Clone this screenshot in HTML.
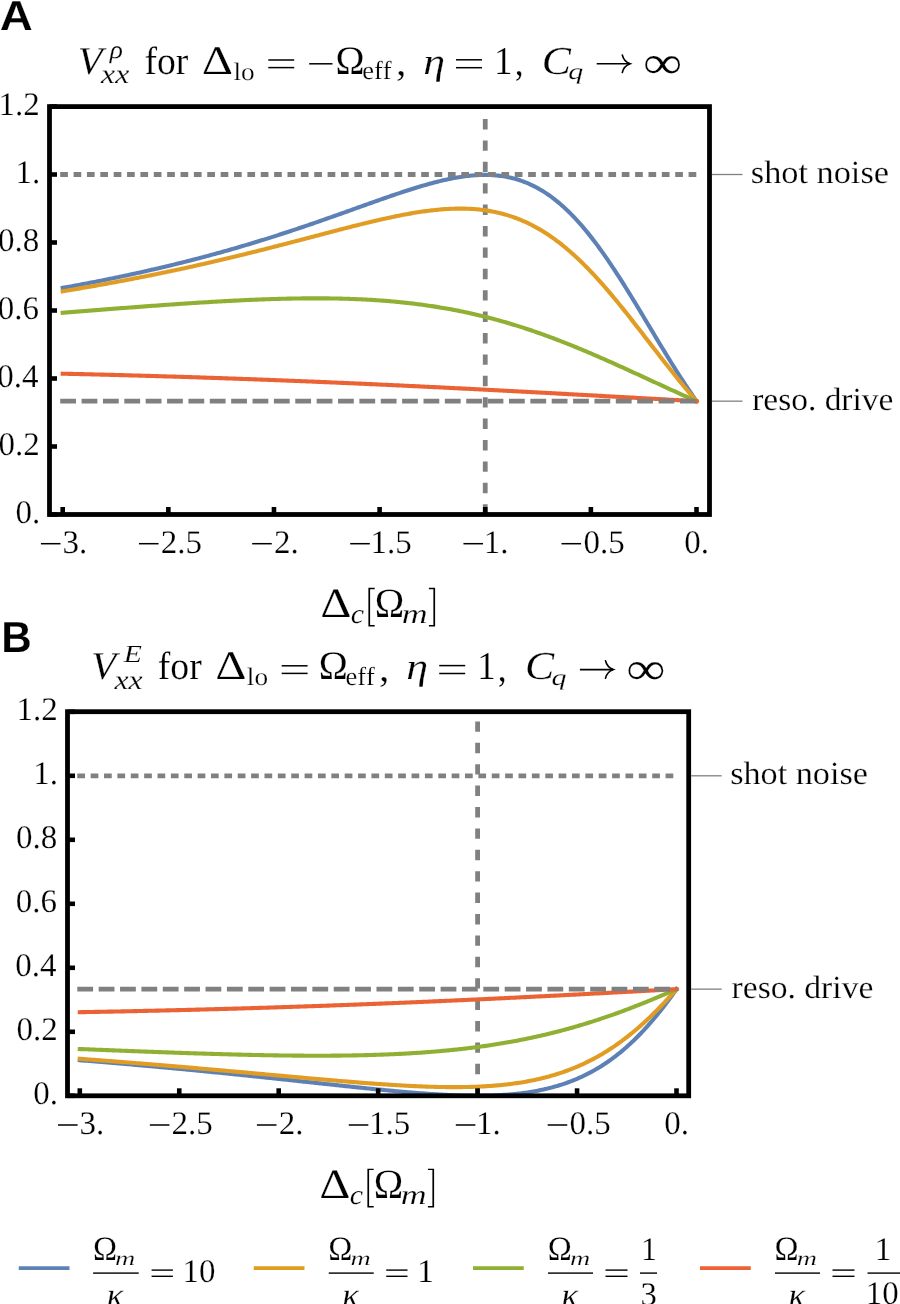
<!DOCTYPE html>
<html><head><meta charset="utf-8"><title>chart</title>
<style>html,body{margin:0;padding:0;background:#fff;width:900px;height:1304px;overflow:hidden}svg{display:block;will-change:transform}text{font-kerning:none;text-rendering:geometricPrecision;stroke:#fff;stroke-width:0.2px}</style>
</head><body>
<svg width="900" height="1304" viewBox="0 0 900 1304">
<rect width="100%" height="100%" fill="#fff"/>
<path d="M485.24 106.60V514.50" stroke="#808080" stroke-width="4.8" stroke-dasharray="10.4 11" stroke-dashoffset="-12.40" fill="none"/>
<path d="M62.70 287.87 L64.28 287.59 L65.87 287.30 L67.45 287.01 L69.04 286.73 L70.62 286.44 L72.21 286.15 L73.79 285.86 L75.38 285.56 L76.96 285.27 L78.55 284.98 L80.13 284.68 L81.71 284.38 L83.30 284.08 L84.88 283.78 L86.47 283.48 L88.05 283.18 L89.64 282.87 L91.22 282.57 L92.81 282.26 L94.39 281.95 L95.98 281.64 L97.56 281.33 L99.14 281.02 L100.73 280.70 L102.31 280.39 L103.90 280.07 L105.48 279.75 L107.07 279.43 L108.65 279.11 L110.24 278.79 L111.82 278.47 L113.40 278.14 L114.99 277.81 L116.57 277.48 L118.16 277.15 L119.74 276.82 L121.33 276.49 L122.91 276.16 L124.50 275.82 L126.08 275.48 L127.67 275.14 L129.25 274.80 L130.83 274.46 L132.42 274.12 L134.00 273.77 L135.59 273.43 L137.17 273.08 L138.76 272.73 L140.34 272.38 L141.93 272.03 L143.51 271.67 L145.10 271.31 L146.68 270.96 L148.26 270.60 L149.85 270.24 L151.43 269.87 L153.02 269.51 L154.60 269.14 L156.19 268.78 L157.77 268.41 L159.36 268.04 L160.94 267.66 L162.53 267.29 L164.11 266.91 L165.69 266.54 L167.28 266.16 L168.86 265.78 L170.45 265.39 L172.03 265.01 L173.62 264.62 L175.20 264.24 L176.79 263.85 L178.37 263.45 L179.95 263.06 L181.54 262.67 L183.12 262.27 L184.71 261.87 L186.29 261.47 L187.88 261.07 L189.46 260.67 L191.05 260.26 L192.63 259.85 L194.22 259.44 L195.80 259.03 L197.38 258.62 L198.97 258.21 L200.55 257.79 L202.14 257.37 L203.72 256.95 L205.31 256.53 L206.89 256.11 L208.48 255.68 L210.06 255.25 L211.65 254.82 L213.23 254.39 L214.81 253.96 L216.40 253.52 L217.98 253.09 L219.57 252.65 L221.15 252.21 L222.74 251.76 L224.32 251.32 L225.91 250.87 L227.49 250.43 L229.08 249.98 L230.66 249.52 L232.24 249.07 L233.83 248.61 L235.41 248.16 L237.00 247.70 L238.58 247.23 L240.17 246.77 L241.75 246.31 L243.34 245.84 L244.92 245.37 L246.50 244.90 L248.09 244.42 L249.67 243.95 L251.26 243.47 L252.84 242.99 L254.43 242.51 L256.01 242.03 L257.60 241.55 L259.18 241.06 L260.77 240.57 L262.35 240.08 L263.93 239.59 L265.52 239.10 L267.10 238.60 L268.69 238.10 L270.27 237.60 L271.86 237.10 L273.44 236.60 L275.03 236.09 L276.61 235.59 L278.20 235.08 L279.78 234.57 L281.36 234.06 L282.95 233.54 L284.53 233.03 L286.12 232.51 L287.70 231.99 L289.29 231.47 L290.87 230.95 L292.46 230.42 L294.04 229.90 L295.63 229.37 L297.21 228.84 L298.79 228.31 L300.38 227.77 L301.96 227.24 L303.55 226.70 L305.13 226.17 L306.72 225.63 L308.30 225.09 L309.89 224.55 L311.47 224.00 L313.05 223.46 L314.64 222.91 L316.22 222.37 L317.81 221.82 L319.39 221.27 L320.98 220.72 L322.56 220.16 L324.15 219.61 L325.73 219.06 L327.32 218.50 L328.90 217.94 L330.48 217.39 L332.07 216.83 L333.65 216.27 L335.24 215.71 L336.82 215.15 L338.41 214.58 L339.99 214.02 L341.58 213.46 L343.16 212.89 L344.75 212.33 L346.33 211.76 L347.91 211.20 L349.50 210.63 L351.08 210.07 L352.67 209.50 L354.25 208.93 L355.84 208.37 L357.42 207.80 L359.01 207.23 L360.59 206.67 L362.18 206.10 L363.76 205.53 L365.34 204.97 L366.93 204.40 L368.51 203.84 L370.10 203.27 L371.68 202.71 L373.27 202.15 L374.85 201.59 L376.44 201.03 L378.02 200.47 L379.61 199.91 L381.19 199.35 L382.77 198.80 L384.36 198.24 L385.94 197.69 L387.53 197.14 L389.11 196.59 L390.70 196.05 L392.28 195.51 L393.87 194.96 L395.45 194.43 L397.03 193.89 L398.62 193.36 L400.20 192.83 L401.79 192.30 L403.37 191.78 L404.96 191.26 L406.54 190.74 L408.13 190.23 L409.71 189.72 L411.30 189.22 L412.88 188.72 L414.46 188.22 L416.05 187.73 L417.63 187.25 L419.22 186.77 L420.80 186.30 L422.39 185.83 L423.97 185.37 L425.56 184.91 L427.14 184.46 L428.73 184.02 L430.31 183.58 L431.89 183.15 L433.48 182.73 L435.06 182.31 L436.65 181.91 L438.23 181.51 L439.82 181.12 L441.40 180.74 L442.99 180.37 L444.57 180.00 L446.16 179.65 L447.74 179.31 L449.32 178.97 L450.91 178.65 L452.49 178.34 L454.08 178.04 L455.66 177.75 L457.25 177.47 L458.83 177.21 L460.42 176.95 L462.00 176.71 L463.58 176.49 L465.17 176.28 L466.75 176.08 L468.34 175.89 L469.92 175.72 L471.51 175.57 L473.09 175.43 L474.68 175.31 L476.26 175.20 L477.85 175.11 L479.43 175.04 L481.01 174.98 L482.60 174.95 L484.18 174.93 L485.77 174.93 L487.35 174.95 L488.94 174.98 L490.52 175.04 L492.11 175.12 L493.69 175.22 L495.28 175.35 L496.86 175.49 L498.44 175.66 L500.03 175.84 L501.61 176.06 L503.20 176.29 L504.78 176.55 L506.37 176.84 L507.95 177.15 L509.54 177.48 L511.12 177.84 L512.71 178.23 L514.29 178.64 L515.87 179.08 L517.46 179.55 L519.04 180.05 L520.63 180.57 L522.21 181.13 L523.80 181.71 L525.38 182.32 L526.97 182.96 L528.55 183.64 L530.13 184.34 L531.72 185.08 L533.30 185.84 L534.89 186.64 L536.47 187.47 L538.06 188.33 L539.64 189.23 L541.23 190.16 L542.81 191.12 L544.40 192.12 L545.98 193.15 L547.56 194.21 L549.15 195.31 L550.73 196.44 L552.32 197.61 L553.90 198.81 L555.49 200.05 L557.07 201.32 L558.66 202.63 L560.24 203.97 L561.83 205.35 L563.41 206.76 L564.99 208.21 L566.58 209.69 L568.16 211.21 L569.75 212.77 L571.33 214.36 L572.92 215.98 L574.50 217.64 L576.09 219.34 L577.67 221.06 L579.26 222.83 L580.84 224.62 L582.42 226.45 L584.01 228.32 L585.59 230.21 L587.18 232.14 L588.76 234.10 L590.35 236.10 L591.93 238.12 L593.52 240.17 L595.10 242.26 L596.68 244.37 L598.27 246.52 L599.85 248.69 L601.44 250.89 L603.02 253.12 L604.61 255.37 L606.19 257.65 L607.78 259.96 L609.36 262.29 L610.95 264.64 L612.53 267.02 L614.11 269.41 L615.70 271.83 L617.28 274.27 L618.87 276.73 L620.45 279.21 L622.04 281.70 L623.62 284.21 L625.21 286.74 L626.79 289.28 L628.38 291.84 L629.96 294.41 L631.54 296.99 L633.13 299.58 L634.71 302.18 L636.30 304.79 L637.88 307.41 L639.47 310.03 L641.05 312.67 L642.64 315.30 L644.22 317.94 L645.81 320.58 L647.39 323.23 L648.97 325.87 L650.56 328.52 L652.14 331.16 L653.73 333.80 L655.31 336.44 L656.90 339.08 L658.48 341.71 L660.07 344.33 L661.65 346.95 L663.23 349.56 L664.82 352.16 L666.40 354.75 L667.99 357.33 L669.57 359.90 L671.16 362.46 L672.74 365.00 L674.33 367.53 L675.91 370.05 L677.50 372.55 L679.08 375.04 L680.66 377.51 L682.25 379.96 L683.83 382.40 L685.42 384.81 L687.00 387.21 L688.59 389.59 L690.17 391.95 L691.76 394.28 L693.34 396.60 L694.93 398.89 L696.51 401.17" fill="none" stroke="#5E81B5" stroke-width="4.1" stroke-linecap="square" stroke-linejoin="round"/>
<path d="M62.70 291.27 L64.28 291.01 L65.87 290.75 L67.45 290.49 L69.04 290.23 L70.62 289.96 L72.21 289.70 L73.79 289.44 L75.38 289.17 L76.96 288.90 L78.55 288.64 L80.13 288.37 L81.71 288.10 L83.30 287.83 L84.88 287.55 L86.47 287.28 L88.05 287.01 L89.64 286.73 L91.22 286.46 L92.81 286.18 L94.39 285.90 L95.98 285.62 L97.56 285.34 L99.14 285.06 L100.73 284.77 L102.31 284.49 L103.90 284.21 L105.48 283.92 L107.07 283.63 L108.65 283.34 L110.24 283.05 L111.82 282.76 L113.40 282.47 L114.99 282.18 L116.57 281.89 L118.16 281.59 L119.74 281.29 L121.33 281.00 L122.91 280.70 L124.50 280.40 L126.08 280.10 L127.67 279.80 L129.25 279.49 L130.83 279.19 L132.42 278.88 L134.00 278.58 L135.59 278.27 L137.17 277.96 L138.76 277.65 L140.34 277.34 L141.93 277.03 L143.51 276.71 L145.10 276.40 L146.68 276.08 L148.26 275.76 L149.85 275.45 L151.43 275.13 L153.02 274.81 L154.60 274.48 L156.19 274.16 L157.77 273.84 L159.36 273.51 L160.94 273.18 L162.53 272.86 L164.11 272.53 L165.69 272.20 L167.28 271.86 L168.86 271.53 L170.45 271.20 L172.03 270.86 L173.62 270.53 L175.20 270.19 L176.79 269.85 L178.37 269.51 L179.95 269.17 L181.54 268.83 L183.12 268.48 L184.71 268.14 L186.29 267.79 L187.88 267.44 L189.46 267.09 L191.05 266.74 L192.63 266.39 L194.22 266.04 L195.80 265.69 L197.38 265.33 L198.97 264.98 L200.55 264.62 L202.14 264.26 L203.72 263.90 L205.31 263.54 L206.89 263.18 L208.48 262.82 L210.06 262.45 L211.65 262.09 L213.23 261.72 L214.81 261.35 L216.40 260.98 L217.98 260.61 L219.57 260.24 L221.15 259.87 L222.74 259.49 L224.32 259.12 L225.91 258.74 L227.49 258.37 L229.08 257.99 L230.66 257.61 L232.24 257.23 L233.83 256.85 L235.41 256.46 L237.00 256.08 L238.58 255.70 L240.17 255.31 L241.75 254.92 L243.34 254.53 L244.92 254.14 L246.50 253.75 L248.09 253.36 L249.67 252.97 L251.26 252.58 L252.84 252.18 L254.43 251.79 L256.01 251.39 L257.60 251.00 L259.18 250.60 L260.77 250.20 L262.35 249.80 L263.93 249.40 L265.52 249.00 L267.10 248.59 L268.69 248.19 L270.27 247.79 L271.86 247.38 L273.44 246.98 L275.03 246.57 L276.61 246.16 L278.20 245.75 L279.78 245.35 L281.36 244.94 L282.95 244.53 L284.53 244.12 L286.12 243.70 L287.70 243.29 L289.29 242.88 L290.87 242.47 L292.46 242.05 L294.04 241.64 L295.63 241.23 L297.21 240.81 L298.79 240.40 L300.38 239.98 L301.96 239.57 L303.55 239.15 L305.13 238.73 L306.72 238.32 L308.30 237.90 L309.89 237.48 L311.47 237.07 L313.05 236.65 L314.64 236.23 L316.22 235.82 L317.81 235.40 L319.39 234.98 L320.98 234.57 L322.56 234.15 L324.15 233.74 L325.73 233.32 L327.32 232.90 L328.90 232.49 L330.48 232.08 L332.07 231.66 L333.65 231.25 L335.24 230.84 L336.82 230.42 L338.41 230.01 L339.99 229.60 L341.58 229.19 L343.16 228.79 L344.75 228.38 L346.33 227.97 L347.91 227.57 L349.50 227.16 L351.08 226.76 L352.67 226.36 L354.25 225.96 L355.84 225.56 L357.42 225.16 L359.01 224.77 L360.59 224.38 L362.18 223.99 L363.76 223.60 L365.34 223.21 L366.93 222.82 L368.51 222.44 L370.10 222.06 L371.68 221.68 L373.27 221.31 L374.85 220.93 L376.44 220.56 L378.02 220.20 L379.61 219.83 L381.19 219.47 L382.77 219.11 L384.36 218.76 L385.94 218.41 L387.53 218.06 L389.11 217.72 L390.70 217.38 L392.28 217.04 L393.87 216.71 L395.45 216.38 L397.03 216.06 L398.62 215.74 L400.20 215.42 L401.79 215.11 L403.37 214.81 L404.96 214.51 L406.54 214.22 L408.13 213.93 L409.71 213.64 L411.30 213.36 L412.88 213.09 L414.46 212.83 L416.05 212.57 L417.63 212.31 L419.22 212.07 L420.80 211.83 L422.39 211.59 L423.97 211.37 L425.56 211.15 L427.14 210.94 L428.73 210.73 L430.31 210.54 L431.89 210.35 L433.48 210.17 L435.06 210.00 L436.65 209.84 L438.23 209.68 L439.82 209.54 L441.40 209.40 L442.99 209.28 L444.57 209.16 L446.16 209.06 L447.74 208.96 L449.32 208.88 L450.91 208.80 L452.49 208.74 L454.08 208.69 L455.66 208.65 L457.25 208.62 L458.83 208.60 L460.42 208.60 L462.00 208.60 L463.58 208.62 L465.17 208.65 L466.75 208.70 L468.34 208.76 L469.92 208.83 L471.51 208.92 L473.09 209.02 L474.68 209.13 L476.26 209.26 L477.85 209.41 L479.43 209.57 L481.01 209.74 L482.60 209.94 L484.18 210.14 L485.77 210.37 L487.35 210.61 L488.94 210.86 L490.52 211.14 L492.11 211.43 L493.69 211.74 L495.28 212.06 L496.86 212.41 L498.44 212.77 L500.03 213.15 L501.61 213.55 L503.20 213.97 L504.78 214.41 L506.37 214.87 L507.95 215.34 L509.54 215.84 L511.12 216.36 L512.71 216.90 L514.29 217.46 L515.87 218.04 L517.46 218.64 L519.04 219.26 L520.63 219.91 L522.21 220.57 L523.80 221.26 L525.38 221.97 L526.97 222.70 L528.55 223.46 L530.13 224.24 L531.72 225.04 L533.30 225.86 L534.89 226.71 L536.47 227.58 L538.06 228.47 L539.64 229.38 L541.23 230.32 L542.81 231.29 L544.40 232.28 L545.98 233.29 L547.56 234.32 L549.15 235.38 L550.73 236.46 L552.32 237.57 L553.90 238.70 L555.49 239.85 L557.07 241.03 L558.66 242.23 L560.24 243.46 L561.83 244.71 L563.41 245.98 L564.99 247.28 L566.58 248.59 L568.16 249.94 L569.75 251.30 L571.33 252.69 L572.92 254.11 L574.50 255.54 L576.09 257.00 L577.67 258.48 L579.26 259.98 L580.84 261.50 L582.42 263.05 L584.01 264.62 L585.59 266.20 L587.18 267.81 L588.76 269.44 L590.35 271.09 L591.93 272.76 L593.52 274.45 L595.10 276.15 L596.68 277.88 L598.27 279.62 L599.85 281.38 L601.44 283.16 L603.02 284.96 L604.61 286.77 L606.19 288.60 L607.78 290.44 L609.36 292.30 L610.95 294.18 L612.53 296.06 L614.11 297.96 L615.70 299.88 L617.28 301.81 L618.87 303.74 L620.45 305.69 L622.04 307.66 L623.62 309.63 L625.21 311.61 L626.79 313.60 L628.38 315.59 L629.96 317.60 L631.54 319.61 L633.13 321.63 L634.71 323.66 L636.30 325.69 L637.88 327.73 L639.47 329.77 L641.05 331.81 L642.64 333.86 L644.22 335.91 L645.81 337.96 L647.39 340.02 L648.97 342.07 L650.56 344.12 L652.14 346.17 L653.73 348.23 L655.31 350.28 L656.90 352.32 L658.48 354.37 L660.07 356.41 L661.65 358.44 L663.23 360.48 L664.82 362.50 L666.40 364.52 L667.99 366.54 L669.57 368.55 L671.16 370.55 L672.74 372.54 L674.33 374.52 L675.91 376.50 L677.50 378.46 L679.08 380.42 L680.66 382.37 L682.25 384.30 L683.83 386.22 L685.42 388.14 L687.00 390.04 L688.59 391.93 L690.17 393.80 L691.76 395.66 L693.34 397.51 L694.93 399.35 L696.51 401.17" fill="none" stroke="#E19C24" stroke-width="4.1" stroke-linecap="square" stroke-linejoin="round"/>
<path d="M62.70 312.71 L64.28 312.59 L65.87 312.46 L67.45 312.34 L69.04 312.22 L70.62 312.09 L72.21 311.97 L73.79 311.84 L75.38 311.72 L76.96 311.60 L78.55 311.47 L80.13 311.35 L81.71 311.22 L83.30 311.10 L84.88 310.98 L86.47 310.85 L88.05 310.73 L89.64 310.61 L91.22 310.48 L92.81 310.36 L94.39 310.24 L95.98 310.11 L97.56 309.99 L99.14 309.87 L100.73 309.75 L102.31 309.62 L103.90 309.50 L105.48 309.38 L107.07 309.26 L108.65 309.13 L110.24 309.01 L111.82 308.89 L113.40 308.77 L114.99 308.65 L116.57 308.53 L118.16 308.40 L119.74 308.28 L121.33 308.16 L122.91 308.04 L124.50 307.92 L126.08 307.80 L127.67 307.68 L129.25 307.56 L130.83 307.44 L132.42 307.33 L134.00 307.21 L135.59 307.09 L137.17 306.97 L138.76 306.85 L140.34 306.73 L141.93 306.62 L143.51 306.50 L145.10 306.38 L146.68 306.27 L148.26 306.15 L149.85 306.03 L151.43 305.92 L153.02 305.80 L154.60 305.69 L156.19 305.58 L157.77 305.46 L159.36 305.35 L160.94 305.23 L162.53 305.12 L164.11 305.01 L165.69 304.90 L167.28 304.79 L168.86 304.68 L170.45 304.57 L172.03 304.46 L173.62 304.35 L175.20 304.24 L176.79 304.13 L178.37 304.02 L179.95 303.91 L181.54 303.81 L183.12 303.70 L184.71 303.59 L186.29 303.49 L187.88 303.38 L189.46 303.28 L191.05 303.18 L192.63 303.07 L194.22 302.97 L195.80 302.87 L197.38 302.77 L198.97 302.67 L200.55 302.57 L202.14 302.47 L203.72 302.38 L205.31 302.28 L206.89 302.18 L208.48 302.09 L210.06 301.99 L211.65 301.90 L213.23 301.80 L214.81 301.71 L216.40 301.62 L217.98 301.53 L219.57 301.44 L221.15 301.35 L222.74 301.26 L224.32 301.17 L225.91 301.09 L227.49 301.00 L229.08 300.92 L230.66 300.84 L232.24 300.75 L233.83 300.67 L235.41 300.59 L237.00 300.51 L238.58 300.43 L240.17 300.36 L241.75 300.28 L243.34 300.21 L244.92 300.13 L246.50 300.06 L248.09 299.99 L249.67 299.92 L251.26 299.85 L252.84 299.78 L254.43 299.72 L256.01 299.65 L257.60 299.59 L259.18 299.52 L260.77 299.46 L262.35 299.40 L263.93 299.34 L265.52 299.29 L267.10 299.23 L268.69 299.18 L270.27 299.12 L271.86 299.07 L273.44 299.02 L275.03 298.98 L276.61 298.93 L278.20 298.88 L279.78 298.84 L281.36 298.80 L282.95 298.76 L284.53 298.72 L286.12 298.68 L287.70 298.65 L289.29 298.61 L290.87 298.58 L292.46 298.55 L294.04 298.52 L295.63 298.50 L297.21 298.47 L298.79 298.45 L300.38 298.43 L301.96 298.41 L303.55 298.39 L305.13 298.38 L306.72 298.36 L308.30 298.35 L309.89 298.35 L311.47 298.34 L313.05 298.33 L314.64 298.33 L316.22 298.33 L317.81 298.33 L319.39 298.34 L320.98 298.34 L322.56 298.35 L324.15 298.36 L325.73 298.38 L327.32 298.39 L328.90 298.41 L330.48 298.43 L332.07 298.45 L333.65 298.48 L335.24 298.51 L336.82 298.54 L338.41 298.57 L339.99 298.61 L341.58 298.64 L343.16 298.68 L344.75 298.73 L346.33 298.77 L347.91 298.82 L349.50 298.88 L351.08 298.93 L352.67 298.99 L354.25 299.05 L355.84 299.11 L357.42 299.18 L359.01 299.25 L360.59 299.32 L362.18 299.39 L363.76 299.47 L365.34 299.55 L366.93 299.64 L368.51 299.72 L370.10 299.81 L371.68 299.91 L373.27 300.00 L374.85 300.11 L376.44 300.21 L378.02 300.32 L379.61 300.43 L381.19 300.54 L382.77 300.66 L384.36 300.78 L385.94 300.90 L387.53 301.03 L389.11 301.16 L390.70 301.29 L392.28 301.43 L393.87 301.57 L395.45 301.72 L397.03 301.87 L398.62 302.02 L400.20 302.18 L401.79 302.34 L403.37 302.50 L404.96 302.67 L406.54 302.84 L408.13 303.02 L409.71 303.20 L411.30 303.38 L412.88 303.57 L414.46 303.76 L416.05 303.96 L417.63 304.16 L419.22 304.36 L420.80 304.57 L422.39 304.78 L423.97 305.00 L425.56 305.22 L427.14 305.45 L428.73 305.68 L430.31 305.91 L431.89 306.15 L433.48 306.39 L435.06 306.64 L436.65 306.89 L438.23 307.14 L439.82 307.40 L441.40 307.67 L442.99 307.94 L444.57 308.21 L446.16 308.49 L447.74 308.77 L449.32 309.06 L450.91 309.35 L452.49 309.64 L454.08 309.95 L455.66 310.25 L457.25 310.56 L458.83 310.88 L460.42 311.20 L462.00 311.52 L463.58 311.85 L465.17 312.18 L466.75 312.52 L468.34 312.86 L469.92 313.21 L471.51 313.57 L473.09 313.92 L474.68 314.29 L476.26 314.65 L477.85 315.02 L479.43 315.40 L481.01 315.78 L482.60 316.17 L484.18 316.56 L485.77 316.96 L487.35 317.36 L488.94 317.77 L490.52 318.18 L492.11 318.59 L493.69 319.01 L495.28 319.44 L496.86 319.87 L498.44 320.30 L500.03 320.74 L501.61 321.19 L503.20 321.64 L504.78 322.09 L506.37 322.55 L507.95 323.02 L509.54 323.49 L511.12 323.96 L512.71 324.44 L514.29 324.92 L515.87 325.41 L517.46 325.91 L519.04 326.40 L520.63 326.91 L522.21 327.41 L523.80 327.92 L525.38 328.44 L526.97 328.96 L528.55 329.49 L530.13 330.02 L531.72 330.55 L533.30 331.09 L534.89 331.64 L536.47 332.19 L538.06 332.74 L539.64 333.30 L541.23 333.86 L542.81 334.42 L544.40 334.99 L545.98 335.57 L547.56 336.15 L549.15 336.73 L550.73 337.32 L552.32 337.91 L553.90 338.51 L555.49 339.11 L557.07 339.71 L558.66 340.32 L560.24 340.93 L561.83 341.54 L563.41 342.16 L564.99 342.79 L566.58 343.41 L568.16 344.04 L569.75 344.68 L571.33 345.31 L572.92 345.96 L574.50 346.60 L576.09 347.25 L577.67 347.90 L579.26 348.55 L580.84 349.21 L582.42 349.87 L584.01 350.54 L585.59 351.20 L587.18 351.87 L588.76 352.55 L590.35 353.22 L591.93 353.90 L593.52 354.58 L595.10 355.27 L596.68 355.95 L598.27 356.64 L599.85 357.33 L601.44 358.03 L603.02 358.72 L604.61 359.42 L606.19 360.12 L607.78 360.82 L609.36 361.53 L610.95 362.24 L612.53 362.94 L614.11 363.65 L615.70 364.37 L617.28 365.08 L618.87 365.80 L620.45 366.51 L622.04 367.23 L623.62 367.95 L625.21 368.67 L626.79 369.39 L628.38 370.12 L629.96 370.84 L631.54 371.57 L633.13 372.29 L634.71 373.02 L636.30 373.75 L637.88 374.47 L639.47 375.20 L641.05 375.93 L642.64 376.66 L644.22 377.39 L645.81 378.12 L647.39 378.85 L648.97 379.58 L650.56 380.31 L652.14 381.04 L653.73 381.78 L655.31 382.51 L656.90 383.24 L658.48 383.96 L660.07 384.69 L661.65 385.42 L663.23 386.15 L664.82 386.88 L666.40 387.60 L667.99 388.33 L669.57 389.05 L671.16 389.78 L672.74 390.50 L674.33 391.22 L675.91 391.94 L677.50 392.66 L679.08 393.38 L680.66 394.10 L682.25 394.81 L683.83 395.52 L685.42 396.24 L687.00 396.95 L688.59 397.65 L690.17 398.36 L691.76 399.06 L693.34 399.77 L694.93 400.47 L696.51 401.17" fill="none" stroke="#8FB032" stroke-width="4.1" stroke-linecap="square" stroke-linejoin="round"/>
<path d="M62.70 373.69 L64.28 373.73 L65.87 373.76 L67.45 373.80 L69.04 373.83 L70.62 373.87 L72.21 373.91 L73.79 373.94 L75.38 373.98 L76.96 374.02 L78.55 374.05 L80.13 374.09 L81.71 374.13 L83.30 374.17 L84.88 374.21 L86.47 374.24 L88.05 374.28 L89.64 374.32 L91.22 374.36 L92.81 374.40 L94.39 374.44 L95.98 374.47 L97.56 374.51 L99.14 374.55 L100.73 374.59 L102.31 374.63 L103.90 374.67 L105.48 374.71 L107.07 374.75 L108.65 374.79 L110.24 374.84 L111.82 374.88 L113.40 374.92 L114.99 374.96 L116.57 375.00 L118.16 375.04 L119.74 375.08 L121.33 375.13 L122.91 375.17 L124.50 375.21 L126.08 375.25 L127.67 375.30 L129.25 375.34 L130.83 375.38 L132.42 375.43 L134.00 375.47 L135.59 375.51 L137.17 375.56 L138.76 375.60 L140.34 375.65 L141.93 375.69 L143.51 375.74 L145.10 375.78 L146.68 375.83 L148.26 375.87 L149.85 375.92 L151.43 375.96 L153.02 376.01 L154.60 376.05 L156.19 376.10 L157.77 376.15 L159.36 376.19 L160.94 376.24 L162.53 376.29 L164.11 376.33 L165.69 376.38 L167.28 376.43 L168.86 376.48 L170.45 376.53 L172.03 376.57 L173.62 376.62 L175.20 376.67 L176.79 376.72 L178.37 376.77 L179.95 376.82 L181.54 376.87 L183.12 376.92 L184.71 376.97 L186.29 377.02 L187.88 377.07 L189.46 377.12 L191.05 377.17 L192.63 377.22 L194.22 377.27 L195.80 377.32 L197.38 377.37 L198.97 377.42 L200.55 377.47 L202.14 377.53 L203.72 377.58 L205.31 377.63 L206.89 377.68 L208.48 377.74 L210.06 377.79 L211.65 377.84 L213.23 377.90 L214.81 377.95 L216.40 378.00 L217.98 378.06 L219.57 378.11 L221.15 378.16 L222.74 378.22 L224.32 378.27 L225.91 378.33 L227.49 378.38 L229.08 378.44 L230.66 378.49 L232.24 378.55 L233.83 378.61 L235.41 378.66 L237.00 378.72 L238.58 378.77 L240.17 378.83 L241.75 378.89 L243.34 378.94 L244.92 379.00 L246.50 379.06 L248.09 379.12 L249.67 379.17 L251.26 379.23 L252.84 379.29 L254.43 379.35 L256.01 379.41 L257.60 379.46 L259.18 379.52 L260.77 379.58 L262.35 379.64 L263.93 379.70 L265.52 379.76 L267.10 379.82 L268.69 379.88 L270.27 379.94 L271.86 380.00 L273.44 380.06 L275.03 380.12 L276.61 380.18 L278.20 380.24 L279.78 380.31 L281.36 380.37 L282.95 380.43 L284.53 380.49 L286.12 380.55 L287.70 380.61 L289.29 380.68 L290.87 380.74 L292.46 380.80 L294.04 380.87 L295.63 380.93 L297.21 380.99 L298.79 381.06 L300.38 381.12 L301.96 381.18 L303.55 381.25 L305.13 381.31 L306.72 381.38 L308.30 381.44 L309.89 381.50 L311.47 381.57 L313.05 381.63 L314.64 381.70 L316.22 381.77 L317.81 381.83 L319.39 381.90 L320.98 381.96 L322.56 382.03 L324.15 382.10 L325.73 382.16 L327.32 382.23 L328.90 382.30 L330.48 382.36 L332.07 382.43 L333.65 382.50 L335.24 382.57 L336.82 382.63 L338.41 382.70 L339.99 382.77 L341.58 382.84 L343.16 382.91 L344.75 382.98 L346.33 383.04 L347.91 383.11 L349.50 383.18 L351.08 383.25 L352.67 383.32 L354.25 383.39 L355.84 383.46 L357.42 383.53 L359.01 383.60 L360.59 383.67 L362.18 383.74 L363.76 383.81 L365.34 383.88 L366.93 383.96 L368.51 384.03 L370.10 384.10 L371.68 384.17 L373.27 384.24 L374.85 384.31 L376.44 384.39 L378.02 384.46 L379.61 384.53 L381.19 384.60 L382.77 384.68 L384.36 384.75 L385.94 384.82 L387.53 384.90 L389.11 384.97 L390.70 385.04 L392.28 385.12 L393.87 385.19 L395.45 385.26 L397.03 385.34 L398.62 385.41 L400.20 385.49 L401.79 385.56 L403.37 385.64 L404.96 385.71 L406.54 385.79 L408.13 385.86 L409.71 385.94 L411.30 386.01 L412.88 386.09 L414.46 386.16 L416.05 386.24 L417.63 386.32 L419.22 386.39 L420.80 386.47 L422.39 386.54 L423.97 386.62 L425.56 386.70 L427.14 386.78 L428.73 386.85 L430.31 386.93 L431.89 387.01 L433.48 387.08 L435.06 387.16 L436.65 387.24 L438.23 387.32 L439.82 387.40 L441.40 387.47 L442.99 387.55 L444.57 387.63 L446.16 387.71 L447.74 387.79 L449.32 387.87 L450.91 387.95 L452.49 388.03 L454.08 388.11 L455.66 388.18 L457.25 388.26 L458.83 388.34 L460.42 388.42 L462.00 388.50 L463.58 388.58 L465.17 388.66 L466.75 388.74 L468.34 388.82 L469.92 388.91 L471.51 388.99 L473.09 389.07 L474.68 389.15 L476.26 389.23 L477.85 389.31 L479.43 389.39 L481.01 389.47 L482.60 389.55 L484.18 389.64 L485.77 389.72 L487.35 389.80 L488.94 389.88 L490.52 389.96 L492.11 390.05 L493.69 390.13 L495.28 390.21 L496.86 390.29 L498.44 390.37 L500.03 390.46 L501.61 390.54 L503.20 390.62 L504.78 390.71 L506.37 390.79 L507.95 390.87 L509.54 390.96 L511.12 391.04 L512.71 391.12 L514.29 391.21 L515.87 391.29 L517.46 391.37 L519.04 391.46 L520.63 391.54 L522.21 391.62 L523.80 391.71 L525.38 391.79 L526.97 391.88 L528.55 391.96 L530.13 392.05 L531.72 392.13 L533.30 392.22 L534.89 392.30 L536.47 392.38 L538.06 392.47 L539.64 392.55 L541.23 392.64 L542.81 392.72 L544.40 392.81 L545.98 392.90 L547.56 392.98 L549.15 393.07 L550.73 393.15 L552.32 393.24 L553.90 393.32 L555.49 393.41 L557.07 393.49 L558.66 393.58 L560.24 393.67 L561.83 393.75 L563.41 393.84 L564.99 393.92 L566.58 394.01 L568.16 394.10 L569.75 394.18 L571.33 394.27 L572.92 394.35 L574.50 394.44 L576.09 394.53 L577.67 394.61 L579.26 394.70 L580.84 394.79 L582.42 394.87 L584.01 394.96 L585.59 395.05 L587.18 395.13 L588.76 395.22 L590.35 395.31 L591.93 395.39 L593.52 395.48 L595.10 395.57 L596.68 395.65 L598.27 395.74 L599.85 395.83 L601.44 395.92 L603.02 396.00 L604.61 396.09 L606.19 396.18 L607.78 396.27 L609.36 396.35 L610.95 396.44 L612.53 396.53 L614.11 396.61 L615.70 396.70 L617.28 396.79 L618.87 396.88 L620.45 396.96 L622.04 397.05 L623.62 397.14 L625.21 397.23 L626.79 397.31 L628.38 397.40 L629.96 397.49 L631.54 397.58 L633.13 397.66 L634.71 397.75 L636.30 397.84 L637.88 397.93 L639.47 398.02 L641.05 398.10 L642.64 398.19 L644.22 398.28 L645.81 398.37 L647.39 398.45 L648.97 398.54 L650.56 398.63 L652.14 398.72 L653.73 398.80 L655.31 398.89 L656.90 398.98 L658.48 399.07 L660.07 399.15 L661.65 399.24 L663.23 399.33 L664.82 399.42 L666.40 399.51 L667.99 399.59 L669.57 399.68 L671.16 399.77 L672.74 399.86 L674.33 399.94 L675.91 400.03 L677.50 400.12 L679.08 400.21 L680.66 400.29 L682.25 400.38 L683.83 400.47 L685.42 400.56 L687.00 400.64 L688.59 400.73 L690.17 400.82 L691.76 400.90 L693.34 400.99 L694.93 401.08 L696.51 401.17" fill="none" stroke="#EB6235" stroke-width="4.1" stroke-linecap="square" stroke-linejoin="round"/>
<path d="M60.20 174.50H696.51" stroke="#808080" stroke-width="4.8" stroke-dasharray="7.7 5.67" fill="none"/>
<path d="M60.20 401.17H696.71" stroke="#808080" stroke-width="4.8" stroke-dasharray="15.8 5.57" fill="none"/>
<rect x="49.50" y="106.60" width="660.00" height="407.90" fill="none" stroke="#000" stroke-width="4.8"/>
<path d="M62.70 514.50V507.00" stroke="#000" stroke-width="4.6"/>
<path d="M49.50 514.50H57.00" stroke="#000" stroke-width="4.6"/>
<path d="M168.34 514.50V507.00" stroke="#000" stroke-width="4.6"/>
<path d="M49.50 446.50H57.00" stroke="#000" stroke-width="4.6"/>
<path d="M273.97 514.50V507.00" stroke="#000" stroke-width="4.6"/>
<path d="M49.50 378.50H57.00" stroke="#000" stroke-width="4.6"/>
<path d="M379.61 514.50V507.00" stroke="#000" stroke-width="4.6"/>
<path d="M49.50 310.50H57.00" stroke="#000" stroke-width="4.6"/>
<path d="M485.24 514.50V507.00" stroke="#000" stroke-width="4.6"/>
<path d="M49.50 242.50H57.00" stroke="#000" stroke-width="4.6"/>
<path d="M590.88 514.50V507.00" stroke="#000" stroke-width="4.6"/>
<path d="M49.50 174.50H57.00" stroke="#000" stroke-width="4.6"/>
<path d="M696.51 514.50V507.00" stroke="#000" stroke-width="4.6"/>
<path d="M49.50 106.50H57.00" stroke="#000" stroke-width="4.6"/>
<text x="15.43" y="523.00" style='font-family:"Liberation Serif";font-style:normal;font-weight:normal;font-size:33.00px' fill="#000">0.</text>
<text x="-1.43" y="455.00" style='font-family:"Liberation Serif";font-style:normal;font-weight:normal;font-size:33.00px' fill="#000">0.2</text>
<text x="-2.73" y="387.00" style='font-family:"Liberation Serif";font-style:normal;font-weight:normal;font-size:33.00px' fill="#000">0.4</text>
<text x="-2.27" y="319.00" style='font-family:"Liberation Serif";font-style:normal;font-weight:normal;font-size:33.00px' fill="#000">0.6</text>
<text x="-1.99" y="251.00" style='font-family:"Liberation Serif";font-style:normal;font-weight:normal;font-size:33.00px' fill="#000">0.8</text>
<text x="15.43" y="183.00" style='font-family:"Liberation Serif";font-style:normal;font-weight:normal;font-size:33.00px' fill="#000">1.</text>
<text x="-1.43" y="115.00" style='font-family:"Liberation Serif";font-style:normal;font-weight:normal;font-size:33.00px' fill="#000">1.2</text>
<rect x="40.90" y="542.95" width="19.60" height="1.50" fill="#000"/>
<text x="62.52" y="552.50" style='font-family:"Liberation Serif";font-style:normal;font-weight:normal;font-size:33.00px' fill="#000">3.</text>
<rect x="138.94" y="542.95" width="19.60" height="1.50" fill="#000"/>
<text x="160.68" y="552.50" style='font-family:"Liberation Serif";font-style:normal;font-weight:normal;font-size:33.00px' fill="#000">2.5</text>
<rect x="252.17" y="542.95" width="19.60" height="1.50" fill="#000"/>
<text x="273.92" y="552.50" style='font-family:"Liberation Serif";font-style:normal;font-weight:normal;font-size:33.00px' fill="#000">2.</text>
<rect x="350.21" y="542.95" width="19.60" height="1.50" fill="#000"/>
<text x="370.50" y="552.50" style='font-family:"Liberation Serif";font-style:normal;font-weight:normal;font-size:33.00px' fill="#000">1.5</text>
<rect x="463.44" y="542.95" width="19.60" height="1.50" fill="#000"/>
<text x="483.74" y="552.50" style='font-family:"Liberation Serif";font-style:normal;font-weight:normal;font-size:33.00px' fill="#000">1.</text>
<rect x="561.48" y="542.95" width="19.60" height="1.50" fill="#000"/>
<text x="583.42" y="552.50" style='font-family:"Liberation Serif";font-style:normal;font-weight:normal;font-size:33.00px' fill="#000">0.5</text>
<text x="684.25" y="552.50" style='font-family:"Liberation Serif";font-style:normal;font-weight:normal;font-size:33.00px' fill="#000">0.</text>
<path d="M711.90 174.50H742.50" stroke="#808080" stroke-width="1.3"/>
<path d="M711.90 401.17H742.50" stroke="#808080" stroke-width="1.3"/>
<path d="M477.60 711.70V1095.80" stroke="#808080" stroke-width="4.8" stroke-dasharray="10.4 11" stroke-dashoffset="-9.70" fill="none"/>
<path d="M79.80 1060.23 L81.29 1060.35 L82.78 1060.47 L84.28 1060.59 L85.77 1060.71 L87.26 1060.83 L88.75 1060.95 L90.24 1061.07 L91.73 1061.19 L93.23 1061.31 L94.72 1061.43 L96.21 1061.55 L97.70 1061.67 L99.19 1061.80 L100.68 1061.92 L102.18 1062.04 L103.67 1062.17 L105.16 1062.29 L106.65 1062.41 L108.14 1062.54 L109.63 1062.66 L111.13 1062.79 L112.62 1062.91 L114.11 1063.04 L115.60 1063.17 L117.09 1063.29 L118.59 1063.42 L120.08 1063.55 L121.57 1063.67 L123.06 1063.80 L124.55 1063.93 L126.04 1064.06 L127.54 1064.19 L129.03 1064.32 L130.52 1064.45 L132.01 1064.58 L133.50 1064.71 L134.99 1064.84 L136.49 1064.97 L137.98 1065.10 L139.47 1065.23 L140.96 1065.36 L142.45 1065.49 L143.95 1065.63 L145.44 1065.76 L146.93 1065.89 L148.42 1066.03 L149.91 1066.16 L151.40 1066.29 L152.90 1066.43 L154.39 1066.56 L155.88 1066.70 L157.37 1066.83 L158.86 1066.97 L160.35 1067.11 L161.85 1067.24 L163.34 1067.38 L164.83 1067.52 L166.32 1067.65 L167.81 1067.79 L169.31 1067.93 L170.80 1068.07 L172.29 1068.21 L173.78 1068.35 L175.27 1068.49 L176.76 1068.63 L178.26 1068.77 L179.75 1068.91 L181.24 1069.05 L182.73 1069.19 L184.22 1069.33 L185.71 1069.47 L187.21 1069.62 L188.70 1069.76 L190.19 1069.90 L191.68 1070.05 L193.17 1070.19 L194.66 1070.33 L196.16 1070.48 L197.65 1070.62 L199.14 1070.77 L200.63 1070.91 L202.12 1071.06 L203.62 1071.20 L205.11 1071.35 L206.60 1071.50 L208.09 1071.64 L209.58 1071.79 L211.07 1071.94 L212.57 1072.09 L214.06 1072.23 L215.55 1072.38 L217.04 1072.53 L218.53 1072.68 L220.02 1072.83 L221.52 1072.98 L223.01 1073.13 L224.50 1073.28 L225.99 1073.43 L227.48 1073.58 L228.98 1073.73 L230.47 1073.88 L231.96 1074.04 L233.45 1074.19 L234.94 1074.34 L236.43 1074.49 L237.93 1074.65 L239.42 1074.80 L240.91 1074.95 L242.40 1075.11 L243.89 1075.26 L245.38 1075.42 L246.88 1075.57 L248.37 1075.72 L249.86 1075.88 L251.35 1076.04 L252.84 1076.19 L254.33 1076.35 L255.83 1076.50 L257.32 1076.66 L258.81 1076.82 L260.30 1076.97 L261.79 1077.13 L263.29 1077.29 L264.78 1077.44 L266.27 1077.60 L267.76 1077.76 L269.25 1077.92 L270.74 1078.08 L272.24 1078.23 L273.73 1078.39 L275.22 1078.55 L276.71 1078.71 L278.20 1078.87 L279.69 1079.03 L281.19 1079.19 L282.68 1079.35 L284.17 1079.51 L285.66 1079.67 L287.15 1079.83 L288.65 1079.99 L290.14 1080.15 L291.63 1080.31 L293.12 1080.47 L294.61 1080.63 L296.10 1080.79 L297.60 1080.95 L299.09 1081.11 L300.58 1081.27 L302.07 1081.43 L303.56 1081.60 L305.05 1081.76 L306.55 1081.92 L308.04 1082.08 L309.53 1082.24 L311.02 1082.40 L312.51 1082.56 L314.00 1082.72 L315.50 1082.89 L316.99 1083.05 L318.48 1083.21 L319.97 1083.37 L321.46 1083.53 L322.96 1083.69 L324.45 1083.85 L325.94 1084.01 L327.43 1084.17 L328.92 1084.33 L330.41 1084.49 L331.91 1084.65 L333.40 1084.81 L334.89 1084.97 L336.38 1085.13 L337.87 1085.29 L339.36 1085.45 L340.86 1085.61 L342.35 1085.77 L343.84 1085.93 L345.33 1086.09 L346.82 1086.25 L348.32 1086.40 L349.81 1086.56 L351.30 1086.72 L352.79 1086.88 L354.28 1087.03 L355.77 1087.19 L357.27 1087.34 L358.76 1087.50 L360.25 1087.65 L361.74 1087.81 L363.23 1087.96 L364.72 1088.11 L366.22 1088.27 L367.71 1088.42 L369.20 1088.57 L370.69 1088.72 L372.18 1088.87 L373.67 1089.02 L375.17 1089.17 L376.66 1089.32 L378.15 1089.47 L379.64 1089.61 L381.13 1089.76 L382.63 1089.90 L384.12 1090.05 L385.61 1090.19 L387.10 1090.33 L388.59 1090.48 L390.08 1090.62 L391.58 1090.76 L393.07 1090.90 L394.56 1091.03 L396.05 1091.17 L397.54 1091.31 L399.03 1091.44 L400.53 1091.57 L402.02 1091.71 L403.51 1091.84 L405.00 1091.97 L406.49 1092.09 L407.99 1092.22 L409.48 1092.35 L410.97 1092.47 L412.46 1092.59 L413.95 1092.71 L415.44 1092.83 L416.94 1092.95 L418.43 1093.07 L419.92 1093.18 L421.41 1093.29 L422.90 1093.40 L424.39 1093.51 L425.89 1093.62 L427.38 1093.73 L428.87 1093.83 L430.36 1093.93 L431.85 1094.03 L433.34 1094.13 L434.84 1094.22 L436.33 1094.31 L437.82 1094.40 L439.31 1094.49 L440.80 1094.57 L442.30 1094.66 L443.79 1094.74 L445.28 1094.81 L446.77 1094.89 L448.26 1094.96 L449.75 1095.03 L451.25 1095.10 L452.74 1095.16 L454.23 1095.22 L455.72 1095.28 L457.21 1095.33 L458.70 1095.38 L460.20 1095.43 L461.69 1095.47 L463.18 1095.51 L464.67 1095.55 L466.16 1095.58 L467.66 1095.61 L469.15 1095.64 L470.64 1095.66 L472.13 1095.67 L473.62 1095.69 L475.11 1095.70 L476.61 1095.70 L478.10 1095.70 L479.59 1095.70 L481.08 1095.69 L482.57 1095.67 L484.06 1095.65 L485.56 1095.63 L487.05 1095.60 L488.54 1095.57 L490.03 1095.53 L491.52 1095.48 L493.01 1095.43 L494.51 1095.38 L496.00 1095.31 L497.49 1095.25 L498.98 1095.17 L500.47 1095.09 L501.97 1095.01 L503.46 1094.92 L504.95 1094.82 L506.44 1094.71 L507.93 1094.60 L509.42 1094.48 L510.92 1094.35 L512.41 1094.22 L513.90 1094.08 L515.39 1093.93 L516.88 1093.77 L518.37 1093.61 L519.87 1093.43 L521.36 1093.25 L522.85 1093.06 L524.34 1092.86 L525.83 1092.66 L527.33 1092.44 L528.82 1092.22 L530.31 1091.98 L531.80 1091.74 L533.29 1091.49 L534.78 1091.22 L536.28 1090.95 L537.77 1090.67 L539.26 1090.37 L540.75 1090.07 L542.24 1089.76 L543.73 1089.43 L545.23 1089.09 L546.72 1088.74 L548.21 1088.38 L549.70 1088.01 L551.19 1087.63 L552.68 1087.23 L554.18 1086.82 L555.67 1086.40 L557.16 1085.97 L558.65 1085.52 L560.14 1085.06 L561.64 1084.58 L563.13 1084.09 L564.62 1083.59 L566.11 1083.07 L567.60 1082.54 L569.09 1081.99 L570.59 1081.43 L572.08 1080.85 L573.57 1080.26 L575.06 1079.65 L576.55 1079.03 L578.04 1078.39 L579.54 1077.73 L581.03 1077.05 L582.52 1076.36 L584.01 1075.65 L585.50 1074.93 L587.00 1074.18 L588.49 1073.42 L589.98 1072.64 L591.47 1071.84 L592.96 1071.02 L594.45 1070.18 L595.95 1069.33 L597.44 1068.45 L598.93 1067.55 L600.42 1066.64 L601.91 1065.70 L603.40 1064.74 L604.90 1063.76 L606.39 1062.76 L607.88 1061.74 L609.37 1060.70 L610.86 1059.64 L612.35 1058.55 L613.85 1057.44 L615.34 1056.31 L616.83 1055.16 L618.32 1053.98 L619.81 1052.78 L621.31 1051.56 L622.80 1050.31 L624.29 1049.04 L625.78 1047.74 L627.27 1046.43 L628.76 1045.09 L630.26 1043.72 L631.75 1042.33 L633.24 1040.91 L634.73 1039.47 L636.22 1038.01 L637.71 1036.52 L639.21 1035.01 L640.70 1033.47 L642.19 1031.90 L643.68 1030.31 L645.17 1028.70 L646.66 1027.06 L648.16 1025.39 L649.65 1023.71 L651.14 1021.99 L652.63 1020.25 L654.12 1018.49 L655.62 1016.70 L657.11 1014.88 L658.60 1013.05 L660.09 1011.18 L661.58 1009.29 L663.07 1007.38 L664.57 1005.45 L666.06 1003.49 L667.55 1001.51 L669.04 999.50 L670.53 997.47 L672.02 995.42 L673.52 993.35 L675.01 991.25 L676.50 989.13" fill="none" stroke="#5E81B5" stroke-width="4.1" stroke-linecap="square" stroke-linejoin="round"/>
<path d="M79.80 1058.79 L81.29 1058.90 L82.78 1059.01 L84.28 1059.12 L85.77 1059.24 L87.26 1059.35 L88.75 1059.46 L90.24 1059.57 L91.73 1059.68 L93.23 1059.80 L94.72 1059.91 L96.21 1060.02 L97.70 1060.13 L99.19 1060.25 L100.68 1060.36 L102.18 1060.48 L103.67 1060.59 L105.16 1060.70 L106.65 1060.82 L108.14 1060.93 L109.63 1061.05 L111.13 1061.16 L112.62 1061.28 L114.11 1061.40 L115.60 1061.51 L117.09 1061.63 L118.59 1061.75 L120.08 1061.86 L121.57 1061.98 L123.06 1062.10 L124.55 1062.22 L126.04 1062.33 L127.54 1062.45 L129.03 1062.57 L130.52 1062.69 L132.01 1062.81 L133.50 1062.93 L134.99 1063.05 L136.49 1063.17 L137.98 1063.29 L139.47 1063.41 L140.96 1063.53 L142.45 1063.65 L143.95 1063.77 L145.44 1063.89 L146.93 1064.01 L148.42 1064.14 L149.91 1064.26 L151.40 1064.38 L152.90 1064.50 L154.39 1064.63 L155.88 1064.75 L157.37 1064.87 L158.86 1065.00 L160.35 1065.12 L161.85 1065.24 L163.34 1065.37 L164.83 1065.49 L166.32 1065.62 L167.81 1065.74 L169.31 1065.87 L170.80 1065.99 L172.29 1066.12 L173.78 1066.25 L175.27 1066.37 L176.76 1066.50 L178.26 1066.62 L179.75 1066.75 L181.24 1066.88 L182.73 1067.01 L184.22 1067.13 L185.71 1067.26 L187.21 1067.39 L188.70 1067.52 L190.19 1067.65 L191.68 1067.77 L193.17 1067.90 L194.66 1068.03 L196.16 1068.16 L197.65 1068.29 L199.14 1068.42 L200.63 1068.55 L202.12 1068.68 L203.62 1068.81 L205.11 1068.94 L206.60 1069.07 L208.09 1069.20 L209.58 1069.33 L211.07 1069.47 L212.57 1069.60 L214.06 1069.73 L215.55 1069.86 L217.04 1069.99 L218.53 1070.12 L220.02 1070.26 L221.52 1070.39 L223.01 1070.52 L224.50 1070.65 L225.99 1070.79 L227.48 1070.92 L228.98 1071.05 L230.47 1071.19 L231.96 1071.32 L233.45 1071.45 L234.94 1071.59 L236.43 1071.72 L237.93 1071.86 L239.42 1071.99 L240.91 1072.12 L242.40 1072.26 L243.89 1072.39 L245.38 1072.53 L246.88 1072.66 L248.37 1072.80 L249.86 1072.93 L251.35 1073.07 L252.84 1073.20 L254.33 1073.34 L255.83 1073.47 L257.32 1073.61 L258.81 1073.74 L260.30 1073.88 L261.79 1074.01 L263.29 1074.15 L264.78 1074.28 L266.27 1074.42 L267.76 1074.55 L269.25 1074.69 L270.74 1074.82 L272.24 1074.96 L273.73 1075.10 L275.22 1075.23 L276.71 1075.37 L278.20 1075.50 L279.69 1075.64 L281.19 1075.77 L282.68 1075.91 L284.17 1076.04 L285.66 1076.18 L287.15 1076.31 L288.65 1076.45 L290.14 1076.58 L291.63 1076.72 L293.12 1076.85 L294.61 1076.99 L296.10 1077.12 L297.60 1077.26 L299.09 1077.39 L300.58 1077.52 L302.07 1077.66 L303.56 1077.79 L305.05 1077.92 L306.55 1078.06 L308.04 1078.19 L309.53 1078.32 L311.02 1078.46 L312.51 1078.59 L314.00 1078.72 L315.50 1078.85 L316.99 1078.98 L318.48 1079.12 L319.97 1079.25 L321.46 1079.38 L322.96 1079.51 L324.45 1079.64 L325.94 1079.77 L327.43 1079.90 L328.92 1080.03 L330.41 1080.15 L331.91 1080.28 L333.40 1080.41 L334.89 1080.54 L336.38 1080.66 L337.87 1080.79 L339.36 1080.92 L340.86 1081.04 L342.35 1081.17 L343.84 1081.29 L345.33 1081.41 L346.82 1081.54 L348.32 1081.66 L349.81 1081.78 L351.30 1081.90 L352.79 1082.02 L354.28 1082.14 L355.77 1082.26 L357.27 1082.38 L358.76 1082.50 L360.25 1082.61 L361.74 1082.73 L363.23 1082.84 L364.72 1082.96 L366.22 1083.07 L367.71 1083.19 L369.20 1083.30 L370.69 1083.41 L372.18 1083.52 L373.67 1083.63 L375.17 1083.74 L376.66 1083.84 L378.15 1083.95 L379.64 1084.05 L381.13 1084.16 L382.63 1084.26 L384.12 1084.36 L385.61 1084.46 L387.10 1084.56 L388.59 1084.66 L390.08 1084.75 L391.58 1084.85 L393.07 1084.94 L394.56 1085.04 L396.05 1085.13 L397.54 1085.22 L399.03 1085.30 L400.53 1085.39 L402.02 1085.47 L403.51 1085.56 L405.00 1085.64 L406.49 1085.72 L407.99 1085.80 L409.48 1085.87 L410.97 1085.95 L412.46 1086.02 L413.95 1086.09 L415.44 1086.16 L416.94 1086.23 L418.43 1086.29 L419.92 1086.36 L421.41 1086.42 L422.90 1086.48 L424.39 1086.53 L425.89 1086.59 L427.38 1086.64 L428.87 1086.69 L430.36 1086.74 L431.85 1086.78 L433.34 1086.82 L434.84 1086.86 L436.33 1086.90 L437.82 1086.94 L439.31 1086.97 L440.80 1087.00 L442.30 1087.02 L443.79 1087.05 L445.28 1087.07 L446.77 1087.09 L448.26 1087.10 L449.75 1087.11 L451.25 1087.12 L452.74 1087.12 L454.23 1087.13 L455.72 1087.12 L457.21 1087.12 L458.70 1087.11 L460.20 1087.10 L461.69 1087.08 L463.18 1087.06 L464.67 1087.04 L466.16 1087.01 L467.66 1086.98 L469.15 1086.94 L470.64 1086.90 L472.13 1086.86 L473.62 1086.81 L475.11 1086.76 L476.61 1086.70 L478.10 1086.64 L479.59 1086.57 L481.08 1086.50 L482.57 1086.42 L484.06 1086.34 L485.56 1086.25 L487.05 1086.16 L488.54 1086.07 L490.03 1085.97 L491.52 1085.86 L493.01 1085.75 L494.51 1085.63 L496.00 1085.50 L497.49 1085.37 L498.98 1085.24 L500.47 1085.10 L501.97 1084.95 L503.46 1084.79 L504.95 1084.63 L506.44 1084.47 L507.93 1084.29 L509.42 1084.11 L510.92 1083.93 L512.41 1083.73 L513.90 1083.53 L515.39 1083.32 L516.88 1083.11 L518.37 1082.89 L519.87 1082.66 L521.36 1082.42 L522.85 1082.17 L524.34 1081.92 L525.83 1081.66 L527.33 1081.39 L528.82 1081.11 L530.31 1080.82 L531.80 1080.52 L533.29 1080.22 L534.78 1079.91 L536.28 1079.58 L537.77 1079.25 L539.26 1078.91 L540.75 1078.56 L542.24 1078.20 L543.73 1077.83 L545.23 1077.45 L546.72 1077.06 L548.21 1076.66 L549.70 1076.25 L551.19 1075.83 L552.68 1075.40 L554.18 1074.96 L555.67 1074.51 L557.16 1074.04 L558.65 1073.57 L560.14 1073.08 L561.64 1072.58 L563.13 1072.07 L564.62 1071.55 L566.11 1071.01 L567.60 1070.47 L569.09 1069.91 L570.59 1069.34 L572.08 1068.75 L573.57 1068.15 L575.06 1067.54 L576.55 1066.92 L578.04 1066.28 L579.54 1065.63 L581.03 1064.97 L582.52 1064.29 L584.01 1063.60 L585.50 1062.89 L587.00 1062.17 L588.49 1061.44 L589.98 1060.69 L591.47 1059.92 L592.96 1059.14 L594.45 1058.35 L595.95 1057.54 L597.44 1056.72 L598.93 1055.88 L600.42 1055.02 L601.91 1054.15 L603.40 1053.26 L604.90 1052.36 L606.39 1051.44 L607.88 1050.50 L609.37 1049.55 L610.86 1048.58 L612.35 1047.60 L613.85 1046.60 L615.34 1045.58 L616.83 1044.54 L618.32 1043.49 L619.81 1042.42 L621.31 1041.34 L622.80 1040.23 L624.29 1039.11 L625.78 1037.98 L627.27 1036.82 L628.76 1035.65 L630.26 1034.46 L631.75 1033.25 L633.24 1032.03 L634.73 1030.79 L636.22 1029.53 L637.71 1028.25 L639.21 1026.95 L640.70 1025.64 L642.19 1024.31 L643.68 1022.97 L645.17 1021.60 L646.66 1020.22 L648.16 1018.82 L649.65 1017.41 L651.14 1015.97 L652.63 1014.52 L654.12 1013.06 L655.62 1011.57 L657.11 1010.07 L658.60 1008.56 L660.09 1007.02 L661.58 1005.47 L663.07 1003.91 L664.57 1002.33 L666.06 1000.73 L667.55 999.12 L669.04 997.49 L670.53 995.85 L672.02 994.19 L673.52 992.52 L675.01 990.83 L676.50 989.13" fill="none" stroke="#E19C24" stroke-width="4.1" stroke-linecap="square" stroke-linejoin="round"/>
<path d="M79.80 1049.02 L81.29 1049.08 L82.78 1049.14 L84.28 1049.20 L85.77 1049.26 L87.26 1049.32 L88.75 1049.38 L90.24 1049.44 L91.73 1049.50 L93.23 1049.56 L94.72 1049.62 L96.21 1049.68 L97.70 1049.74 L99.19 1049.80 L100.68 1049.86 L102.18 1049.92 L103.67 1049.98 L105.16 1050.03 L106.65 1050.09 L108.14 1050.15 L109.63 1050.21 L111.13 1050.27 L112.62 1050.33 L114.11 1050.39 L115.60 1050.45 L117.09 1050.51 L118.59 1050.56 L120.08 1050.62 L121.57 1050.68 L123.06 1050.74 L124.55 1050.80 L126.04 1050.85 L127.54 1050.91 L129.03 1050.97 L130.52 1051.03 L132.01 1051.09 L133.50 1051.14 L134.99 1051.20 L136.49 1051.26 L137.98 1051.31 L139.47 1051.37 L140.96 1051.43 L142.45 1051.48 L143.95 1051.54 L145.44 1051.60 L146.93 1051.65 L148.42 1051.71 L149.91 1051.76 L151.40 1051.82 L152.90 1051.87 L154.39 1051.93 L155.88 1051.98 L157.37 1052.04 L158.86 1052.09 L160.35 1052.15 L161.85 1052.20 L163.34 1052.25 L164.83 1052.31 L166.32 1052.36 L167.81 1052.41 L169.31 1052.47 L170.80 1052.52 L172.29 1052.57 L173.78 1052.63 L175.27 1052.68 L176.76 1052.73 L178.26 1052.78 L179.75 1052.83 L181.24 1052.88 L182.73 1052.93 L184.22 1052.98 L185.71 1053.03 L187.21 1053.08 L188.70 1053.13 L190.19 1053.18 L191.68 1053.23 L193.17 1053.28 L194.66 1053.33 L196.16 1053.38 L197.65 1053.43 L199.14 1053.48 L200.63 1053.52 L202.12 1053.57 L203.62 1053.62 L205.11 1053.66 L206.60 1053.71 L208.09 1053.75 L209.58 1053.80 L211.07 1053.85 L212.57 1053.89 L214.06 1053.93 L215.55 1053.98 L217.04 1054.02 L218.53 1054.06 L220.02 1054.11 L221.52 1054.15 L223.01 1054.19 L224.50 1054.23 L225.99 1054.28 L227.48 1054.32 L228.98 1054.36 L230.47 1054.40 L231.96 1054.44 L233.45 1054.47 L234.94 1054.51 L236.43 1054.55 L237.93 1054.59 L239.42 1054.63 L240.91 1054.66 L242.40 1054.70 L243.89 1054.74 L245.38 1054.77 L246.88 1054.81 L248.37 1054.84 L249.86 1054.87 L251.35 1054.91 L252.84 1054.94 L254.33 1054.97 L255.83 1055.00 L257.32 1055.03 L258.81 1055.06 L260.30 1055.09 L261.79 1055.12 L263.29 1055.15 L264.78 1055.18 L266.27 1055.21 L267.76 1055.23 L269.25 1055.26 L270.74 1055.29 L272.24 1055.31 L273.73 1055.34 L275.22 1055.36 L276.71 1055.38 L278.20 1055.40 L279.69 1055.43 L281.19 1055.45 L282.68 1055.47 L284.17 1055.49 L285.66 1055.51 L287.15 1055.52 L288.65 1055.54 L290.14 1055.56 L291.63 1055.57 L293.12 1055.59 L294.61 1055.60 L296.10 1055.62 L297.60 1055.63 L299.09 1055.64 L300.58 1055.65 L302.07 1055.66 L303.56 1055.67 L305.05 1055.68 L306.55 1055.69 L308.04 1055.69 L309.53 1055.70 L311.02 1055.70 L312.51 1055.71 L314.00 1055.71 L315.50 1055.71 L316.99 1055.71 L318.48 1055.71 L319.97 1055.71 L321.46 1055.71 L322.96 1055.71 L324.45 1055.70 L325.94 1055.70 L327.43 1055.69 L328.92 1055.69 L330.41 1055.68 L331.91 1055.67 L333.40 1055.66 L334.89 1055.65 L336.38 1055.64 L337.87 1055.62 L339.36 1055.61 L340.86 1055.59 L342.35 1055.57 L343.84 1055.56 L345.33 1055.54 L346.82 1055.52 L348.32 1055.49 L349.81 1055.47 L351.30 1055.45 L352.79 1055.42 L354.28 1055.39 L355.77 1055.37 L357.27 1055.34 L358.76 1055.30 L360.25 1055.27 L361.74 1055.24 L363.23 1055.20 L364.72 1055.17 L366.22 1055.13 L367.71 1055.09 L369.20 1055.05 L370.69 1055.01 L372.18 1054.96 L373.67 1054.92 L375.17 1054.87 L376.66 1054.82 L378.15 1054.77 L379.64 1054.72 L381.13 1054.67 L382.63 1054.62 L384.12 1054.56 L385.61 1054.50 L387.10 1054.44 L388.59 1054.38 L390.08 1054.32 L391.58 1054.25 L393.07 1054.19 L394.56 1054.12 L396.05 1054.05 L397.54 1053.98 L399.03 1053.91 L400.53 1053.83 L402.02 1053.75 L403.51 1053.68 L405.00 1053.59 L406.49 1053.51 L407.99 1053.43 L409.48 1053.34 L410.97 1053.25 L412.46 1053.16 L413.95 1053.07 L415.44 1052.98 L416.94 1052.88 L418.43 1052.78 L419.92 1052.68 L421.41 1052.58 L422.90 1052.47 L424.39 1052.37 L425.89 1052.26 L427.38 1052.15 L428.87 1052.03 L430.36 1051.92 L431.85 1051.80 L433.34 1051.68 L434.84 1051.56 L436.33 1051.43 L437.82 1051.31 L439.31 1051.18 L440.80 1051.05 L442.30 1050.91 L443.79 1050.78 L445.28 1050.64 L446.77 1050.50 L448.26 1050.35 L449.75 1050.21 L451.25 1050.06 L452.74 1049.90 L454.23 1049.75 L455.72 1049.59 L457.21 1049.44 L458.70 1049.27 L460.20 1049.11 L461.69 1048.94 L463.18 1048.77 L464.67 1048.60 L466.16 1048.42 L467.66 1048.25 L469.15 1048.07 L470.64 1047.88 L472.13 1047.69 L473.62 1047.51 L475.11 1047.31 L476.61 1047.12 L478.10 1046.92 L479.59 1046.72 L481.08 1046.52 L482.57 1046.31 L484.06 1046.10 L485.56 1045.89 L487.05 1045.67 L488.54 1045.45 L490.03 1045.23 L491.52 1045.00 L493.01 1044.77 L494.51 1044.54 L496.00 1044.31 L497.49 1044.07 L498.98 1043.83 L500.47 1043.58 L501.97 1043.34 L503.46 1043.08 L504.95 1042.83 L506.44 1042.57 L507.93 1042.31 L509.42 1042.05 L510.92 1041.78 L512.41 1041.51 L513.90 1041.23 L515.39 1040.95 L516.88 1040.67 L518.37 1040.39 L519.87 1040.10 L521.36 1039.81 L522.85 1039.51 L524.34 1039.21 L525.83 1038.91 L527.33 1038.60 L528.82 1038.29 L530.31 1037.98 L531.80 1037.66 L533.29 1037.34 L534.78 1037.02 L536.28 1036.69 L537.77 1036.35 L539.26 1036.02 L540.75 1035.68 L542.24 1035.34 L543.73 1034.99 L545.23 1034.64 L546.72 1034.28 L548.21 1033.92 L549.70 1033.56 L551.19 1033.20 L552.68 1032.83 L554.18 1032.45 L555.67 1032.08 L557.16 1031.69 L558.65 1031.31 L560.14 1030.92 L561.64 1030.53 L563.13 1030.13 L564.62 1029.73 L566.11 1029.32 L567.60 1028.91 L569.09 1028.50 L570.59 1028.09 L572.08 1027.66 L573.57 1027.24 L575.06 1026.81 L576.55 1026.38 L578.04 1025.94 L579.54 1025.50 L581.03 1025.06 L582.52 1024.61 L584.01 1024.16 L585.50 1023.70 L587.00 1023.24 L588.49 1022.78 L589.98 1022.31 L591.47 1021.84 L592.96 1021.37 L594.45 1020.89 L595.95 1020.40 L597.44 1019.92 L598.93 1019.43 L600.42 1018.93 L601.91 1018.43 L603.40 1017.93 L604.90 1017.42 L606.39 1016.91 L607.88 1016.40 L609.37 1015.88 L610.86 1015.36 L612.35 1014.84 L613.85 1014.31 L615.34 1013.77 L616.83 1013.24 L618.32 1012.70 L619.81 1012.16 L621.31 1011.61 L622.80 1011.06 L624.29 1010.50 L625.78 1009.95 L627.27 1009.39 L628.76 1008.82 L630.26 1008.25 L631.75 1007.68 L633.24 1007.11 L634.73 1006.53 L636.22 1005.95 L637.71 1005.36 L639.21 1004.77 L640.70 1004.18 L642.19 1003.59 L643.68 1002.99 L645.17 1002.39 L646.66 1001.78 L648.16 1001.18 L649.65 1000.57 L651.14 999.96 L652.63 999.34 L654.12 998.72 L655.62 998.10 L657.11 997.48 L658.60 996.85 L660.09 996.22 L661.58 995.59 L663.07 994.95 L664.57 994.32 L666.06 993.68 L667.55 993.03 L669.04 992.39 L670.53 991.74 L672.02 991.09 L673.52 990.44 L675.01 989.79 L676.50 989.13" fill="none" stroke="#8FB032" stroke-width="4.1" stroke-linecap="square" stroke-linejoin="round"/>
<path d="M79.80 1012.20 L81.29 1012.17 L82.78 1012.14 L84.28 1012.12 L85.77 1012.09 L87.26 1012.06 L88.75 1012.03 L90.24 1012.01 L91.73 1011.98 L93.23 1011.95 L94.72 1011.92 L96.21 1011.90 L97.70 1011.87 L99.19 1011.84 L100.68 1011.81 L102.18 1011.78 L103.67 1011.75 L105.16 1011.73 L106.65 1011.70 L108.14 1011.67 L109.63 1011.64 L111.13 1011.61 L112.62 1011.58 L114.11 1011.55 L115.60 1011.52 L117.09 1011.49 L118.59 1011.46 L120.08 1011.43 L121.57 1011.40 L123.06 1011.37 L124.55 1011.34 L126.04 1011.31 L127.54 1011.27 L129.03 1011.24 L130.52 1011.21 L132.01 1011.18 L133.50 1011.15 L134.99 1011.12 L136.49 1011.08 L137.98 1011.05 L139.47 1011.02 L140.96 1010.99 L142.45 1010.95 L143.95 1010.92 L145.44 1010.89 L146.93 1010.86 L148.42 1010.82 L149.91 1010.79 L151.40 1010.76 L152.90 1010.72 L154.39 1010.69 L155.88 1010.65 L157.37 1010.62 L158.86 1010.59 L160.35 1010.55 L161.85 1010.52 L163.34 1010.48 L164.83 1010.45 L166.32 1010.41 L167.81 1010.38 L169.31 1010.34 L170.80 1010.30 L172.29 1010.27 L173.78 1010.23 L175.27 1010.20 L176.76 1010.16 L178.26 1010.12 L179.75 1010.09 L181.24 1010.05 L182.73 1010.01 L184.22 1009.98 L185.71 1009.94 L187.21 1009.90 L188.70 1009.86 L190.19 1009.83 L191.68 1009.79 L193.17 1009.75 L194.66 1009.71 L196.16 1009.67 L197.65 1009.64 L199.14 1009.60 L200.63 1009.56 L202.12 1009.52 L203.62 1009.48 L205.11 1009.44 L206.60 1009.40 L208.09 1009.36 L209.58 1009.32 L211.07 1009.28 L212.57 1009.24 L214.06 1009.20 L215.55 1009.16 L217.04 1009.12 L218.53 1009.08 L220.02 1009.04 L221.52 1009.00 L223.01 1008.96 L224.50 1008.91 L225.99 1008.87 L227.48 1008.83 L228.98 1008.79 L230.47 1008.75 L231.96 1008.70 L233.45 1008.66 L234.94 1008.62 L236.43 1008.58 L237.93 1008.53 L239.42 1008.49 L240.91 1008.45 L242.40 1008.40 L243.89 1008.36 L245.38 1008.31 L246.88 1008.27 L248.37 1008.23 L249.86 1008.18 L251.35 1008.14 L252.84 1008.09 L254.33 1008.05 L255.83 1008.00 L257.32 1007.96 L258.81 1007.91 L260.30 1007.87 L261.79 1007.82 L263.29 1007.77 L264.78 1007.73 L266.27 1007.68 L267.76 1007.64 L269.25 1007.59 L270.74 1007.54 L272.24 1007.49 L273.73 1007.45 L275.22 1007.40 L276.71 1007.35 L278.20 1007.31 L279.69 1007.26 L281.19 1007.21 L282.68 1007.16 L284.17 1007.11 L285.66 1007.06 L287.15 1007.02 L288.65 1006.97 L290.14 1006.92 L291.63 1006.87 L293.12 1006.82 L294.61 1006.77 L296.10 1006.72 L297.60 1006.67 L299.09 1006.62 L300.58 1006.57 L302.07 1006.52 L303.56 1006.47 L305.05 1006.42 L306.55 1006.37 L308.04 1006.32 L309.53 1006.26 L311.02 1006.21 L312.51 1006.16 L314.00 1006.11 L315.50 1006.06 L316.99 1006.01 L318.48 1005.95 L319.97 1005.90 L321.46 1005.85 L322.96 1005.80 L324.45 1005.74 L325.94 1005.69 L327.43 1005.64 L328.92 1005.58 L330.41 1005.53 L331.91 1005.47 L333.40 1005.42 L334.89 1005.37 L336.38 1005.31 L337.87 1005.26 L339.36 1005.20 L340.86 1005.15 L342.35 1005.09 L343.84 1005.04 L345.33 1004.98 L346.82 1004.93 L348.32 1004.87 L349.81 1004.81 L351.30 1004.76 L352.79 1004.70 L354.28 1004.65 L355.77 1004.59 L357.27 1004.53 L358.76 1004.48 L360.25 1004.42 L361.74 1004.36 L363.23 1004.30 L364.72 1004.25 L366.22 1004.19 L367.71 1004.13 L369.20 1004.07 L370.69 1004.01 L372.18 1003.96 L373.67 1003.90 L375.17 1003.84 L376.66 1003.78 L378.15 1003.72 L379.64 1003.66 L381.13 1003.60 L382.63 1003.54 L384.12 1003.48 L385.61 1003.42 L387.10 1003.36 L388.59 1003.30 L390.08 1003.24 L391.58 1003.18 L393.07 1003.12 L394.56 1003.06 L396.05 1003.00 L397.54 1002.94 L399.03 1002.87 L400.53 1002.81 L402.02 1002.75 L403.51 1002.69 L405.00 1002.63 L406.49 1002.57 L407.99 1002.50 L409.48 1002.44 L410.97 1002.38 L412.46 1002.31 L413.95 1002.25 L415.44 1002.19 L416.94 1002.12 L418.43 1002.06 L419.92 1002.00 L421.41 1001.93 L422.90 1001.87 L424.39 1001.81 L425.89 1001.74 L427.38 1001.68 L428.87 1001.61 L430.36 1001.55 L431.85 1001.48 L433.34 1001.42 L434.84 1001.35 L436.33 1001.29 L437.82 1001.22 L439.31 1001.15 L440.80 1001.09 L442.30 1001.02 L443.79 1000.96 L445.28 1000.89 L446.77 1000.82 L448.26 1000.76 L449.75 1000.69 L451.25 1000.62 L452.74 1000.56 L454.23 1000.49 L455.72 1000.42 L457.21 1000.35 L458.70 1000.29 L460.20 1000.22 L461.69 1000.15 L463.18 1000.08 L464.67 1000.01 L466.16 999.94 L467.66 999.88 L469.15 999.81 L470.64 999.74 L472.13 999.67 L473.62 999.60 L475.11 999.53 L476.61 999.46 L478.10 999.39 L479.59 999.32 L481.08 999.25 L482.57 999.18 L484.06 999.11 L485.56 999.04 L487.05 998.97 L488.54 998.90 L490.03 998.83 L491.52 998.76 L493.01 998.69 L494.51 998.62 L496.00 998.54 L497.49 998.47 L498.98 998.40 L500.47 998.33 L501.97 998.26 L503.46 998.19 L504.95 998.11 L506.44 998.04 L507.93 997.97 L509.42 997.90 L510.92 997.82 L512.41 997.75 L513.90 997.68 L515.39 997.61 L516.88 997.53 L518.37 997.46 L519.87 997.39 L521.36 997.31 L522.85 997.24 L524.34 997.16 L525.83 997.09 L527.33 997.02 L528.82 996.94 L530.31 996.87 L531.80 996.79 L533.29 996.72 L534.78 996.64 L536.28 996.57 L537.77 996.49 L539.26 996.42 L540.75 996.34 L542.24 996.27 L543.73 996.19 L545.23 996.12 L546.72 996.04 L548.21 995.97 L549.70 995.89 L551.19 995.82 L552.68 995.74 L554.18 995.66 L555.67 995.59 L557.16 995.51 L558.65 995.43 L560.14 995.36 L561.64 995.28 L563.13 995.20 L564.62 995.13 L566.11 995.05 L567.60 994.97 L569.09 994.90 L570.59 994.82 L572.08 994.74 L573.57 994.66 L575.06 994.59 L576.55 994.51 L578.04 994.43 L579.54 994.35 L581.03 994.28 L582.52 994.20 L584.01 994.12 L585.50 994.04 L587.00 993.96 L588.49 993.88 L589.98 993.81 L591.47 993.73 L592.96 993.65 L594.45 993.57 L595.95 993.49 L597.44 993.41 L598.93 993.33 L600.42 993.25 L601.91 993.18 L603.40 993.10 L604.90 993.02 L606.39 992.94 L607.88 992.86 L609.37 992.78 L610.86 992.70 L612.35 992.62 L613.85 992.54 L615.34 992.46 L616.83 992.38 L618.32 992.30 L619.81 992.22 L621.31 992.14 L622.80 992.06 L624.29 991.98 L625.78 991.90 L627.27 991.82 L628.76 991.74 L630.26 991.66 L631.75 991.58 L633.24 991.50 L634.73 991.41 L636.22 991.33 L637.71 991.25 L639.21 991.17 L640.70 991.09 L642.19 991.01 L643.68 990.93 L645.17 990.85 L646.66 990.77 L648.16 990.69 L649.65 990.60 L651.14 990.52 L652.63 990.44 L654.12 990.36 L655.62 990.28 L657.11 990.20 L658.60 990.12 L660.09 990.03 L661.58 989.95 L663.07 989.87 L664.57 989.79 L666.06 989.71 L667.55 989.63 L669.04 989.54 L670.53 989.46 L672.02 989.38 L673.52 989.30 L675.01 989.22 L676.50 989.13" fill="none" stroke="#EB6235" stroke-width="4.1" stroke-linecap="square" stroke-linejoin="round"/>
<path d="M77.30 775.80H676.50" stroke="#808080" stroke-width="4.8" stroke-dasharray="7.7 5.67" fill="none"/>
<path d="M77.30 989.13H676.70" stroke="#808080" stroke-width="4.8" stroke-dasharray="15.8 5.57" fill="none"/>
<rect x="67.50" y="711.70" width="621.20" height="384.10" fill="none" stroke="#000" stroke-width="4.8"/>
<path d="M79.80 1095.80V1088.30" stroke="#000" stroke-width="4.6"/>
<path d="M67.50 1095.80H75.00" stroke="#000" stroke-width="4.6"/>
<path d="M179.25 1095.80V1088.30" stroke="#000" stroke-width="4.6"/>
<path d="M67.50 1031.80H75.00" stroke="#000" stroke-width="4.6"/>
<path d="M278.70 1095.80V1088.30" stroke="#000" stroke-width="4.6"/>
<path d="M67.50 967.80H75.00" stroke="#000" stroke-width="4.6"/>
<path d="M378.15 1095.80V1088.30" stroke="#000" stroke-width="4.6"/>
<path d="M67.50 903.80H75.00" stroke="#000" stroke-width="4.6"/>
<path d="M477.60 1095.80V1088.30" stroke="#000" stroke-width="4.6"/>
<path d="M67.50 839.80H75.00" stroke="#000" stroke-width="4.6"/>
<path d="M577.05 1095.80V1088.30" stroke="#000" stroke-width="4.6"/>
<path d="M67.50 775.80H75.00" stroke="#000" stroke-width="4.6"/>
<path d="M676.50 1095.80V1088.30" stroke="#000" stroke-width="4.6"/>
<path d="M67.50 711.80H75.00" stroke="#000" stroke-width="4.6"/>
<text x="33.33" y="1104.30" style='font-family:"Liberation Serif";font-style:normal;font-weight:normal;font-size:33.00px' fill="#000">0.</text>
<text x="16.47" y="1040.30" style='font-family:"Liberation Serif";font-style:normal;font-weight:normal;font-size:33.00px' fill="#000">0.2</text>
<text x="15.17" y="976.30" style='font-family:"Liberation Serif";font-style:normal;font-weight:normal;font-size:33.00px' fill="#000">0.4</text>
<text x="15.63" y="912.30" style='font-family:"Liberation Serif";font-style:normal;font-weight:normal;font-size:33.00px' fill="#000">0.6</text>
<text x="15.91" y="848.30" style='font-family:"Liberation Serif";font-style:normal;font-weight:normal;font-size:33.00px' fill="#000">0.8</text>
<text x="33.33" y="784.30" style='font-family:"Liberation Serif";font-style:normal;font-weight:normal;font-size:33.00px' fill="#000">1.</text>
<text x="16.47" y="720.30" style='font-family:"Liberation Serif";font-style:normal;font-weight:normal;font-size:33.00px' fill="#000">1.2</text>
<rect x="58.00" y="1124.25" width="19.60" height="1.50" fill="#000"/>
<text x="79.62" y="1133.80" style='font-family:"Liberation Serif";font-style:normal;font-weight:normal;font-size:33.00px' fill="#000">3.</text>
<rect x="149.85" y="1124.25" width="19.60" height="1.50" fill="#000"/>
<text x="171.60" y="1133.80" style='font-family:"Liberation Serif";font-style:normal;font-weight:normal;font-size:33.00px' fill="#000">2.5</text>
<rect x="256.90" y="1124.25" width="19.60" height="1.50" fill="#000"/>
<text x="278.65" y="1133.80" style='font-family:"Liberation Serif";font-style:normal;font-weight:normal;font-size:33.00px' fill="#000">2.</text>
<rect x="348.75" y="1124.25" width="19.60" height="1.50" fill="#000"/>
<text x="369.05" y="1133.80" style='font-family:"Liberation Serif";font-style:normal;font-weight:normal;font-size:33.00px' fill="#000">1.5</text>
<rect x="455.80" y="1124.25" width="19.60" height="1.50" fill="#000"/>
<text x="476.10" y="1133.80" style='font-family:"Liberation Serif";font-style:normal;font-weight:normal;font-size:33.00px' fill="#000">1.</text>
<rect x="547.65" y="1124.25" width="19.60" height="1.50" fill="#000"/>
<text x="569.59" y="1133.80" style='font-family:"Liberation Serif";font-style:normal;font-weight:normal;font-size:33.00px' fill="#000">0.5</text>
<text x="664.24" y="1133.80" style='font-family:"Liberation Serif";font-style:normal;font-weight:normal;font-size:33.00px' fill="#000">0.</text>
<path d="M691.10 775.80H721.70" stroke="#808080" stroke-width="1.3"/>
<path d="M691.10 989.13H721.70" stroke="#808080" stroke-width="1.3"/>
<text transform="translate(750.79 183.30) scale(1.0622 1.0000)" style='font-family:"Liberation Serif";font-style:normal;font-weight:normal;font-size:32.30px' fill="#000">shot noise</text>
<text transform="translate(752.23 409.90) scale(1.0352 1.0000)" style='font-family:"Liberation Serif";font-style:normal;font-weight:normal;font-size:32.30px' fill="#000">reso. drive</text>
<text transform="translate(730.20 784.40) scale(1.0583 1.0000)" style='font-family:"Liberation Serif";font-style:normal;font-weight:normal;font-size:32.30px' fill="#000">shot noise</text>
<text transform="translate(731.53 997.90) scale(1.0404 1.0000)" style='font-family:"Liberation Serif";font-style:normal;font-weight:normal;font-size:32.30px' fill="#000">reso. drive</text>
<text transform="translate(-0.14 29.80) scale(1.0895 1.0000)" style='font-family:"Liberation Sans";font-style:normal;font-weight:bold;font-size:42.00px' fill="#000">A</text>
<text transform="translate(1.28 652.00) scale(0.9687 1.0000)" style='font-family:"Liberation Sans";font-style:normal;font-weight:bold;font-size:43.50px' fill="#000">B</text>
<text transform="translate(77.87 73.60) scale(1.0323 1.0000)" style='font-family:"Liberation Serif";font-style:italic;font-weight:normal;font-size:39.50px' fill="#000">V</text>
<text transform="translate(109.69 57.70) scale(1.0945 1.0000)" style='font-family:"Liberation Serif";font-style:italic;font-weight:normal;font-size:25.00px' fill="#000">ρ</text>
<text transform="translate(101.09 83.40) scale(1.1743 1.0000)" style='font-family:"Liberation Serif";font-style:italic;font-weight:normal;font-size:27.00px' fill="#000">xx</text>
<text transform="translate(144.44 73.60) scale(0.9529 1.0000)" style='font-family:"Liberation Serif";font-style:normal;font-weight:normal;font-size:39.50px' fill="#000">for</text>
<text transform="translate(201.85 73.60) scale(1.2011 1.0000)" style='font-family:"Liberation Serif";font-style:normal;font-weight:normal;font-size:40.50px' fill="#000">Δ</text>
<text transform="translate(233.45 79.50) scale(1.0807 1.0000)" style='font-family:"Liberation Serif";font-style:normal;font-weight:normal;font-size:25.20px' fill="#000">lo</text>
<rect x="268.30" y="59.25" width="25.90" height="1.50" fill="#000"/>
<rect x="268.30" y="66.85" width="25.90" height="1.50" fill="#000"/>
<rect x="309.20" y="63.05" width="23.30" height="1.50" fill="#000"/>
<text transform="translate(335.48 73.60) scale(0.9650 1.0000)" style='font-family:"Liberation Serif";font-style:normal;font-weight:normal;font-size:40.50px' fill="#000">Ω</text>
<text transform="translate(362.26 79.20) scale(1.0162 1.0000)" style='font-family:"Liberation Serif";font-style:normal;font-weight:normal;font-size:26.10px' fill="#000">eff</text>
<text transform="translate(395.91 74.80) scale(1.0540 1.0000)" style='font-family:"Liberation Serif";font-style:normal;font-weight:normal;font-size:39.50px' fill="#000">,</text>
<text transform="translate(423.13 73.60) scale(1.1870 1.0000)" style='font-family:"Liberation Serif";font-style:italic;font-weight:normal;font-size:37.00px' fill="#000">η</text>
<rect x="456.00" y="59.05" width="26.00" height="1.50" fill="#000"/>
<rect x="456.00" y="66.95" width="26.00" height="1.50" fill="#000"/>
<text transform="translate(494.05 73.60) scale(0.9348 1.0000)" style='font-family:"Liberation Serif";font-style:normal;font-weight:normal;font-size:39.50px' fill="#000">1</text>
<text transform="translate(514.64 74.80) scale(0.9010 1.0000)" style='font-family:"Liberation Serif";font-style:normal;font-weight:normal;font-size:39.50px' fill="#000">,</text>
<text transform="translate(541.77 73.60) scale(1.1055 1.0000)" style='font-family:"Liberation Serif";font-style:italic;font-weight:normal;font-size:39.50px' fill="#000">C</text>
<text transform="translate(568.20 79.40) scale(1.3215 1.0000)" style='font-family:"Liberation Serif";font-style:italic;font-weight:normal;font-size:22.70px' fill="#000">q</text>
<path d="M596.70 63.80H629.80" stroke="#000" stroke-width="1.60" fill="none"/>
<path d="M622.30 55.00C623.30 59.30 626.80 62.60 630.20 63.80C626.80 65.00 623.30 68.30 622.30 72.50" stroke="#000" stroke-width="1.60" fill="none" stroke-linecap="round"/>
<text transform="translate(642.93 77.85) scale(1.1941 1.0000)" style='font-family:"Liberation Serif";font-style:normal;font-weight:normal;font-size:46.00px' fill="#000">∞</text>
<text transform="translate(91.27 679.40) scale(1.0323 1.0000)" style='font-family:"Liberation Serif";font-style:italic;font-weight:normal;font-size:39.50px' fill="#000">V</text>
<text transform="translate(123.65 662.30) scale(1.2115 1.0000)" style='font-family:"Liberation Serif";font-style:italic;font-weight:normal;font-size:24.50px' fill="#000">E</text>
<text transform="translate(114.49 689.20) scale(1.1743 1.0000)" style='font-family:"Liberation Serif";font-style:italic;font-weight:normal;font-size:27.00px' fill="#000">xx</text>
<text transform="translate(157.84 679.40) scale(0.9529 1.0000)" style='font-family:"Liberation Serif";font-style:normal;font-weight:normal;font-size:39.50px' fill="#000">for</text>
<text transform="translate(215.25 679.40) scale(1.2011 1.0000)" style='font-family:"Liberation Serif";font-style:normal;font-weight:normal;font-size:40.50px' fill="#000">Δ</text>
<text transform="translate(246.85 685.30) scale(1.0807 1.0000)" style='font-family:"Liberation Serif";font-style:normal;font-weight:normal;font-size:25.20px' fill="#000">lo</text>
<rect x="281.70" y="665.05" width="25.90" height="1.50" fill="#000"/>
<rect x="281.70" y="672.65" width="25.90" height="1.50" fill="#000"/>
<text transform="translate(318.68 679.40) scale(0.9650 1.0000)" style='font-family:"Liberation Serif";font-style:normal;font-weight:normal;font-size:40.50px' fill="#000">Ω</text>
<text transform="translate(345.46 685.00) scale(1.0162 1.0000)" style='font-family:"Liberation Serif";font-style:normal;font-weight:normal;font-size:26.10px' fill="#000">eff</text>
<text transform="translate(379.11 680.60) scale(1.0540 1.0000)" style='font-family:"Liberation Serif";font-style:normal;font-weight:normal;font-size:39.50px' fill="#000">,</text>
<text transform="translate(406.33 679.40) scale(1.1870 1.0000)" style='font-family:"Liberation Serif";font-style:italic;font-weight:normal;font-size:37.00px' fill="#000">η</text>
<rect x="439.20" y="664.85" width="26.00" height="1.50" fill="#000"/>
<rect x="439.20" y="672.75" width="26.00" height="1.50" fill="#000"/>
<text transform="translate(477.25 679.40) scale(0.9348 1.0000)" style='font-family:"Liberation Serif";font-style:normal;font-weight:normal;font-size:39.50px' fill="#000">1</text>
<text transform="translate(497.84 680.60) scale(0.9010 1.0000)" style='font-family:"Liberation Serif";font-style:normal;font-weight:normal;font-size:39.50px' fill="#000">,</text>
<text transform="translate(524.97 679.40) scale(1.1055 1.0000)" style='font-family:"Liberation Serif";font-style:italic;font-weight:normal;font-size:39.50px' fill="#000">C</text>
<text transform="translate(551.40 685.20) scale(1.3215 1.0000)" style='font-family:"Liberation Serif";font-style:italic;font-weight:normal;font-size:22.70px' fill="#000">q</text>
<path d="M579.90 669.60H613.00" stroke="#000" stroke-width="1.60" fill="none"/>
<path d="M605.50 660.80C606.50 665.10 610.00 668.40 613.40 669.60C610.00 670.80 606.50 674.10 605.50 678.30" stroke="#000" stroke-width="1.60" fill="none" stroke-linecap="round"/>
<text transform="translate(626.13 683.65) scale(1.1941 1.0000)" style='font-family:"Liberation Serif";font-style:normal;font-weight:normal;font-size:46.00px' fill="#000">∞</text>
<text transform="translate(320.35 617.10) scale(1.1665 1.0000)" style='font-family:"Liberation Serif";font-style:normal;font-weight:normal;font-size:41.70px' fill="#000">Δ</text>
<text transform="translate(350.68 623.20) scale(1.0767 1.0000)" style='font-family:"Liberation Serif";font-style:italic;font-weight:normal;font-size:27.70px' fill="#000">c</text>
<path d="M374.70 587.80H368.40V626.50H374.70V625.10H370.10V589.20H374.70Z" fill="#000"/>
<text transform="translate(374.74 617.10) scale(0.9523 1.0000)" style='font-family:"Liberation Serif";font-style:normal;font-weight:normal;font-size:41.70px' fill="#000">Ω</text>
<text transform="translate(401.80 623.20) scale(1.2948 1.0000)" style='font-family:"Liberation Serif";font-style:italic;font-weight:normal;font-size:27.70px' fill="#000">m</text>
<path d="M428.90 587.80H435.10V626.50H428.90V625.10H433.40V589.20H428.90Z" fill="#000"/>
<text transform="translate(319.35 1198.00) scale(1.1665 1.0000)" style='font-family:"Liberation Serif";font-style:normal;font-weight:normal;font-size:41.70px' fill="#000">Δ</text>
<text transform="translate(349.68 1204.10) scale(1.0767 1.0000)" style='font-family:"Liberation Serif";font-style:italic;font-weight:normal;font-size:27.70px' fill="#000">c</text>
<path d="M373.70 1168.70H367.40V1207.40H373.70V1206.00H369.10V1170.10H373.70Z" fill="#000"/>
<text transform="translate(373.74 1198.00) scale(0.9523 1.0000)" style='font-family:"Liberation Serif";font-style:normal;font-weight:normal;font-size:41.70px' fill="#000">Ω</text>
<text transform="translate(400.80 1204.10) scale(1.2948 1.0000)" style='font-family:"Liberation Serif";font-style:italic;font-weight:normal;font-size:27.70px' fill="#000">m</text>
<path d="M427.90 1168.70H434.10V1207.40H427.90V1206.00H432.40V1170.10H427.90Z" fill="#000"/>
<path d="M18.75 1268H69.50" stroke="#5E81B5" stroke-width="3.75"/>
<text transform="translate(92.93 1259.50) scale(0.9518 1.0000)" style='font-family:"Liberation Serif";font-style:normal;font-weight:normal;font-size:34.00px' fill="#000">Ω</text>
<text transform="translate(115.09 1264.50) scale(1.4000 1.0000)" style='font-family:"Liberation Serif";font-style:italic;font-weight:normal;font-size:20.00px' fill="#000">m</text>
<rect x="93.10" y="1272.40" width="45.60" height="1.40" fill="#000"/>
<text transform="translate(106.84 1305.50) scale(1.0410 1.0000)" style='font-family:"Liberation Serif";font-style:italic;font-weight:normal;font-size:33.00px' fill="#000">κ</text>
<rect x="151.60" y="1269.40" width="21.30" height="1.40" fill="#000"/>
<rect x="151.60" y="1275.60" width="21.30" height="1.40" fill="#000"/>
<text transform="translate(182.40 1282.10) scale(0.9985 1.0000)" style='font-family:"Liberation Serif";font-style:normal;font-weight:normal;font-size:33.00px' fill="#000">10</text>
<path d="M253.75 1268H304.50" stroke="#E19C24" stroke-width="3.75"/>
<text transform="translate(328.33 1259.50) scale(0.9518 1.0000)" style='font-family:"Liberation Serif";font-style:normal;font-weight:normal;font-size:34.00px' fill="#000">Ω</text>
<text transform="translate(350.49 1264.50) scale(1.4000 1.0000)" style='font-family:"Liberation Serif";font-style:italic;font-weight:normal;font-size:20.00px' fill="#000">m</text>
<rect x="328.75" y="1272.40" width="45.00" height="1.40" fill="#000"/>
<text transform="translate(342.19 1305.50) scale(1.0410 1.0000)" style='font-family:"Liberation Serif";font-style:italic;font-weight:normal;font-size:33.00px' fill="#000">κ</text>
<rect x="386.25" y="1269.40" width="21.25" height="1.40" fill="#000"/>
<rect x="386.25" y="1275.60" width="21.25" height="1.40" fill="#000"/>
<text transform="translate(417.00 1282.10) scale(1.0329 1.0000)" style='font-family:"Liberation Serif";font-style:normal;font-weight:normal;font-size:33.00px' fill="#000">1</text>
<path d="M473.00 1268H523.75" stroke="#8FB032" stroke-width="3.75"/>
<text transform="translate(547.83 1259.50) scale(0.9518 1.0000)" style='font-family:"Liberation Serif";font-style:normal;font-weight:normal;font-size:34.00px' fill="#000">Ω</text>
<text transform="translate(569.99 1264.50) scale(1.4000 1.0000)" style='font-family:"Liberation Serif";font-style:italic;font-weight:normal;font-size:20.00px' fill="#000">m</text>
<rect x="548.00" y="1272.40" width="45.00" height="1.40" fill="#000"/>
<text transform="translate(561.44 1305.50) scale(1.0410 1.0000)" style='font-family:"Liberation Serif";font-style:italic;font-weight:normal;font-size:33.00px' fill="#000">κ</text>
<rect x="605.50" y="1269.40" width="22.00" height="1.40" fill="#000"/>
<rect x="605.50" y="1275.60" width="22.00" height="1.40" fill="#000"/>
<text transform="translate(640.94 1259.50) scale(0.9684 1.0000)" style='font-family:"Liberation Serif";font-style:normal;font-weight:normal;font-size:33.00px' fill="#000">1</text>
<rect x="640.00" y="1272.40" width="17.00" height="1.40" fill="#000"/>
<text transform="translate(640.44 1304.60) scale(0.9903 1.0000)" style='font-family:"Liberation Serif";font-style:normal;font-weight:normal;font-size:33.00px' fill="#000">3</text>
<path d="M700.00 1268H750.75" stroke="#EB6235" stroke-width="3.75"/>
<text transform="translate(774.58 1259.50) scale(0.9518 1.0000)" style='font-family:"Liberation Serif";font-style:normal;font-weight:normal;font-size:34.00px' fill="#000">Ω</text>
<text transform="translate(796.74 1264.50) scale(1.4000 1.0000)" style='font-family:"Liberation Serif";font-style:italic;font-weight:normal;font-size:20.00px' fill="#000">m</text>
<rect x="775.00" y="1272.40" width="45.00" height="1.40" fill="#000"/>
<text transform="translate(788.44 1305.50) scale(1.0410 1.0000)" style='font-family:"Liberation Serif";font-style:italic;font-weight:normal;font-size:33.00px' fill="#000">κ</text>
<rect x="832.50" y="1269.40" width="22.00" height="1.40" fill="#000"/>
<rect x="832.50" y="1275.60" width="22.00" height="1.40" fill="#000"/>
<text transform="translate(874.50 1259.50) scale(1.0329 1.0000)" style='font-family:"Liberation Serif";font-style:normal;font-weight:normal;font-size:33.00px' fill="#000">1</text>
<rect x="867.50" y="1272.40" width="35.50" height="1.40" fill="#000"/>
<text transform="translate(865.86 1303.90) scale(0.9968 1.0000)" style='font-family:"Liberation Serif";font-style:normal;font-weight:normal;font-size:33.00px' fill="#000">10</text>
</svg>
</body></html>
